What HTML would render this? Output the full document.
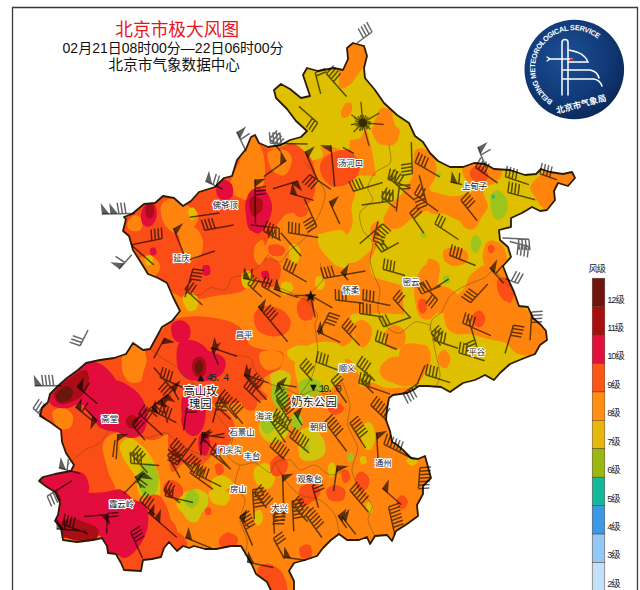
<!DOCTYPE html>
<html lang="zh"><head><meta charset="utf-8"><title>北京市极大风图</title>
<style>
html,body{margin:0;padding:0;background:#fff;}
body{width:640px;height:590px;overflow:hidden;position:relative;font-family:"Liberation Sans","Noto Sans CJK SC",sans-serif;}
svg{position:absolute;left:0;top:0;display:block;}
.t{font-family:"Liberation Sans","Noto Sans CJK SC",sans-serif;}
.lab{font-family:"Liberation Sans","Noto Sans CJK SC",sans-serif;font-size:8.4px;fill:#1a1a2a;paint-order:stroke;stroke:#fff;stroke-width:2.2px;stroke-linejoin:round;}
.lab2{font-family:"Liberation Sans","Noto Sans CJK SC",sans-serif;font-size:11.4px;fill:#111;paint-order:stroke;stroke:#fff;stroke-width:2.4px;stroke-linejoin:round;}
.leg{font-family:"Liberation Sans","Noto Sans CJK SC",sans-serif;font-size:9.3px;fill:#222;letter-spacing:-1.1px}
</style></head><body>
<svg width="640" height="590" viewBox="0 0 640 590">
<defs><clipPath id="bj"><path d="M124.0 217.0L132.0 214.0L144.0 204.0L155.0 203.0L163.0 196.0L174.0 198.0L183.0 206.0L191.0 201.0L199.0 192.0L215.0 187.0L224.0 178.0L232.0 176.0L237.0 160.0L246.0 149.0L251.0 137.0L255.0 135.0L259.0 143.0L268.0 147.0L281.0 145.0L290.0 140.0L301.0 137.0L307.0 131.0L296.0 121.0L287.0 109.0L276.0 98.0L274.0 90.0L281.0 84.0L290.0 89.0L301.0 98.0L310.0 96.0L307.0 87.0L303.0 75.0L307.0 68.0L318.0 71.0L334.0 68.0L343.0 70.0L348.0 59.0L347.0 48.0L353.0 43.0L364.0 46.0L367.0 56.0L364.0 68.0L365.0 78.0L375.0 90.0L384.0 103.0L397.0 115.0L409.0 123.0L415.0 136.0L423.0 142.0L430.0 153.0L438.0 161.0L450.0 167.0L463.0 167.0L474.0 163.0L485.0 164.0L494.0 169.0L510.0 170.0L525.0 175.0L536.0 174.0L541.0 169.0L550.0 172.0L563.0 174.0L572.0 172.0L575.0 178.0L568.0 186.0L558.0 183.0L554.0 191.0L555.0 200.0L547.0 210.0L540.0 211.0L532.0 207.0L522.0 213.0L511.0 218.0L511.0 227.0L499.0 230.0L500.0 240.0L508.0 247.0L511.0 257.0L503.0 266.0L508.0 279.0L514.0 292.0L519.0 306.0L528.0 307.0L533.0 318.0L541.0 325.0L546.0 331.0L547.0 340.0L540.0 345.0L535.0 354.0L522.0 359.0L510.0 364.0L500.0 373.0L494.0 380.0L485.0 375.0L475.0 380.0L463.0 383.0L450.0 392.0L441.0 387.0L428.0 386.0L419.0 386.0L413.0 390.0L407.0 393.0L393.0 395.0L389.0 398.0L387.0 409.0L386.0 420.0L390.0 431.0L392.0 442.0L396.0 444.0L403.0 450.0L411.0 458.0L418.0 459.0L425.0 456.0L428.0 467.0L431.0 478.0L423.0 486.0L423.0 494.0L417.0 505.0L418.0 516.0L407.0 524.0L396.0 531.0L392.0 541.0L387.0 535.0L375.0 536.0L370.0 544.0L367.0 537.0L359.0 540.0L347.0 540.0L339.0 534.0L331.0 540.0L323.0 548.0L317.0 556.0L305.0 560.0L294.0 563.0L289.0 571.0L294.0 581.0L294.0 595.0L273.0 595.0L267.0 582.0L256.0 574.0L252.0 565.0L247.0 556.0L241.0 546.0L231.0 546.0L216.0 549.0L205.0 549.0L194.0 546.0L189.0 548.0L183.0 546.0L177.0 551.0L169.0 542.0L164.0 548.0L161.0 557.0L152.0 559.0L143.0 560.0L141.0 571.0L124.0 570.0L121.0 563.0L116.0 554.0L108.0 553.0L107.0 546.0L102.0 538.0L93.0 540.0L77.0 542.0L63.0 540.0L61.0 528.0L55.0 521.0L58.0 515.0L60.0 503.0L55.0 492.0L47.0 487.0L39.0 481.0L43.0 477.0L55.0 474.0L71.0 471.0L74.0 465.0L66.0 453.0L62.0 442.0L61.0 430.0L50.0 422.0L40.0 416.0L42.0 408.0L48.0 402.0L50.0 394.0L58.0 386.0L67.0 378.0L78.0 370.0L86.0 363.0L100.0 360.0L114.0 358.0L126.0 354.0L133.0 343.0L143.0 350.0L150.0 349.0L156.0 338.0L162.0 327.0L172.0 321.0L180.0 311.0L173.0 297.0L167.0 283.0L158.0 278.0L148.0 274.0L140.0 261.0L133.0 250.0L129.0 236.0L123.0 231.0L126.0 219.0Z"/></clipPath>
<radialGradient id="lg" cx="0.42" cy="0.38" r="0.75"><stop offset="0" stop-color="#1c4f94"/><stop offset="0.55" stop-color="#113a78"/><stop offset="1" stop-color="#08204a"/></radialGradient>
<filter id="bl" x="-5%" y="-5%" width="110%" height="110%"><feGaussianBlur stdDeviation="0.7"/></filter>
<path id="arc" d="M 552.9 100.8 A 38.3 38.3 0 1 1 599.6 40.5"/>
</defs>
<rect width="640" height="590" fill="#fff"/>
<path d="M12.5 590V7.5H637.5V590" fill="none" stroke="#3a3a3a" stroke-width="1.3"/>
<g clip-path="url(#bj)"><g filter="url(#bl)">
<rect x="30" y="35" width="560" height="560" fill="#ff8410"/>
<path d="M267.6 85.1C270.9 77.2 266.3 72.6 272.6 67.6C278.9 62.6 294.7 55.5 305.2 55.0C315.7 54.6 330.0 59.7 335.8 65.1C341.5 70.4 337.4 83.8 339.8 87.1C342.1 90.5 346.9 87.0 349.8 85.1C352.7 83.2 354.4 78.7 357.3 75.6C360.2 72.5 363.1 65.6 367.3 66.3C371.6 67.1 378.2 72.8 382.9 80.1C387.6 87.4 393.3 99.3 395.4 110.2C397.5 121.0 397.9 140.3 395.4 145.3C392.9 150.3 384.6 144.0 380.4 140.3C376.2 136.5 373.7 123.1 370.4 122.7C367.0 122.3 363.7 134.8 360.3 137.7C357.0 140.7 352.4 138.2 350.3 140.3C348.2 142.3 351.1 149.2 347.8 150.3C344.5 151.3 335.3 146.9 330.3 146.5C325.2 146.1 321.9 147.8 317.7 147.8C313.5 147.8 309.4 146.7 305.2 146.5C301.0 146.3 298.9 147.1 292.7 146.5C286.4 145.9 274.3 148.0 267.6 142.8C260.9 137.5 252.6 124.8 252.6 115.2C252.6 105.6 264.3 93.0 267.6 85.1Z" fill="#dfc004"/>
<path d="M352.7 177.5C356.9 175.0 374.8 174.6 380.3 177.5C385.7 180.4 385.3 188.4 385.3 195.0C385.3 201.7 382.8 212.2 380.3 217.6C377.8 223.0 371.5 223.0 370.3 227.6C369.0 232.2 373.6 240.6 372.8 245.2C371.9 249.8 368.6 252.3 365.2 255.2C361.9 258.1 358.1 261.9 352.7 262.7C347.3 263.5 338.1 262.7 332.7 260.2C327.2 257.7 322.4 252.1 320.1 247.7C317.8 243.3 316.4 235.3 318.9 233.9C321.4 232.4 330.4 238.9 335.2 238.9C340.0 238.9 344.8 236.6 347.7 233.9C350.6 231.2 352.1 227.0 352.7 222.6C353.3 218.2 351.0 212.6 351.5 207.6C351.9 202.6 355.0 197.5 355.2 192.5C355.4 187.5 348.5 180.0 352.7 177.5Z" fill="#dfc004"/>
<path d="M351.4 315.0C354.9 312.7 366.2 313.8 375.2 313.8C384.2 313.8 399.4 313.6 405.3 315.0C411.1 316.5 406.1 320.9 410.3 322.6C414.5 324.2 425.3 322.6 430.3 325.1C435.3 327.6 434.5 335.5 440.4 337.6C446.2 339.7 461.2 329.7 465.4 337.6C469.6 345.5 468.8 376.4 465.4 385.2C462.1 394.0 451.2 390.2 445.4 390.2C439.5 390.2 435.3 385.8 430.3 385.2C425.3 384.6 420.3 386.0 415.3 386.5C410.3 386.9 405.3 387.5 400.3 387.7C395.2 387.9 389.8 388.6 385.2 387.7C380.6 386.9 376.9 382.9 372.7 382.7C368.5 382.5 362.4 387.7 360.2 386.5C357.9 385.2 360.6 379.6 358.9 375.2C357.2 370.8 353.7 362.9 350.1 360.2C346.6 357.4 340.1 360.6 337.6 358.9C335.1 357.2 333.0 352.8 335.1 350.1C337.2 347.4 347.0 346.4 350.1 342.6C353.3 338.8 353.7 332.2 353.9 327.6C354.1 323.0 347.8 317.3 351.4 315.0Z" fill="#dfc004"/>
<path d="M121.5 442.7C123.1 440.7 127.1 437.3 130.2 437.7C133.4 438.1 137.3 441.9 140.3 445.3C143.2 448.6 145.3 453.6 147.8 457.8C150.3 462.0 153.4 464.5 155.3 470.3C157.2 476.2 161.6 488.7 159.1 492.9C156.6 497.0 144.2 498.3 140.3 495.4C136.3 492.5 137.3 481.2 135.3 475.3C133.2 469.5 130.2 464.5 127.7 460.3C125.2 456.1 121.3 453.2 120.2 450.3C119.2 447.3 119.8 444.8 121.5 442.7Z" fill="#dfc004"/>
<path d="M122.7 444.5C124.8 442.0 131.1 440.7 135.3 442.0C139.4 443.3 144.0 447.0 147.8 452.0C151.5 457.0 155.7 465.4 157.8 472.1C159.9 478.8 160.7 486.7 160.3 492.1C159.9 497.6 157.8 503.0 155.3 504.7C152.8 506.3 147.8 505.1 145.3 502.2C142.8 499.2 142.4 492.1 140.3 487.1C138.2 482.1 135.7 477.1 132.7 472.1C129.8 467.1 124.4 461.6 122.7 457.0C121.0 452.4 120.6 447.0 122.7 444.5Z" fill="#dfc004"/>
<path d="M176.6 504.7C176.6 500.9 182.0 493.8 185.4 492.1C188.7 490.5 194.8 490.5 196.7 494.6C198.5 498.8 198.5 513.8 196.7 517.2C194.8 520.5 188.7 516.8 185.4 514.7C182.0 512.6 176.6 508.4 176.6 504.7Z" fill="#dfc004"/>
<path d="M254.0 470.2C255.2 466.5 261.7 462.3 265.2 462.7C268.8 463.1 274.4 468.6 275.3 472.7C276.1 476.9 273.2 485.7 270.3 487.8C267.3 489.9 260.4 488.2 257.7 485.3C255.0 482.3 252.7 474.0 254.0 470.2Z" fill="#dfc004"/>
<path d="M211.4 480.3C212.8 478.0 219.1 474.8 222.6 475.2C226.2 475.7 232.2 480.3 232.7 482.8C233.1 485.3 228.3 489.2 225.1 490.3C222.0 491.3 216.2 490.7 213.9 489.0C211.6 487.4 209.9 482.5 211.4 480.3Z" fill="#dfc004"/>
<path d="M306.6 440.2C307.0 436.4 313.1 429.7 315.4 430.1C317.7 430.5 320.8 438.9 320.4 442.7C320.0 446.4 315.2 453.1 312.9 452.7C310.6 452.3 306.2 443.9 306.6 440.2Z" fill="#dfc004"/>
<path d="M361.4 427.6C362.7 423.6 367.9 421.3 370.2 422.6C372.5 423.8 375.0 430.7 375.2 435.1C375.4 439.5 373.5 447.0 371.4 448.9C369.3 450.8 364.3 449.9 362.7 446.4C361.0 442.8 360.2 431.5 361.4 427.6Z" fill="#dfc004"/>
<path d="M406.5 460.2C406.7 458.6 410.9 456.2 412.8 456.4C414.7 456.6 418.0 459.9 417.8 461.4C417.6 462.9 413.4 465.9 411.5 465.7C409.6 465.5 406.3 461.7 406.5 460.2Z" fill="#dfc004"/>
<path d="M328.1 466.4C328.7 463.9 332.6 461.6 333.8 462.7C335.1 463.7 336.2 470.2 335.6 472.7C335.0 475.2 331.3 478.7 330.1 477.7C328.8 476.6 327.4 468.9 328.1 466.4Z" fill="#dfc004"/>
<path d="M360.2 457.6C360.8 456.4 364.1 455.6 365.2 456.4C366.2 457.2 367.0 461.4 366.4 462.7C365.8 463.9 362.4 464.7 361.4 463.9C360.4 463.1 359.5 458.9 360.2 457.6Z" fill="#dfc004"/>
<path d="M366.4 504.0C367.0 502.3 370.4 501.5 371.4 502.8C372.5 504.0 373.3 509.9 372.7 511.5C372.1 513.2 368.7 514.0 367.7 512.8C366.6 511.5 365.8 505.7 366.4 504.0Z" fill="#dfc004"/>
<path d="M208.8 492.5C210.0 490.2 216.5 488.3 220.0 488.8C223.5 489.2 229.2 492.3 230.0 495.0C230.8 497.7 227.9 503.8 225.0 505.0C222.1 506.2 215.2 504.6 212.5 502.5C209.8 500.4 207.5 494.8 208.8 492.5Z" fill="#dfc004"/>
<path d="M147.5 470.0C149.0 464.6 154.6 470.8 156.2 475.0C157.9 479.2 158.1 489.6 157.5 495.0C156.9 500.4 154.2 505.4 152.5 507.5C150.8 509.6 148.3 513.8 147.5 507.5C146.7 501.2 146.0 475.4 147.5 470.0Z" fill="#dfc004"/>
<path d="M256.2 472.5C257.7 470.2 264.4 469.2 267.5 470.0C270.6 470.8 275.0 474.6 275.0 477.5C275.0 480.4 270.2 486.5 267.5 487.5C264.8 488.5 260.6 486.2 258.8 483.8C256.9 481.2 254.8 474.8 256.2 472.5Z" fill="#dfc004"/>
<path d="M253.0 515.0C253.4 512.4 258.3 509.4 260.0 510.0C261.7 510.6 263.4 516.2 263.0 518.8C262.6 521.3 259.2 526.1 257.5 525.5C255.8 524.9 252.6 517.6 253.0 515.0Z" fill="#dfc004"/>
<path d="M366.0 118.0C367.7 109.3 377.8 86.1 385.0 85.0C392.2 83.9 411.3 101.3 420.0 110.0C428.7 118.7 436.7 143.3 450.0 150.0C463.3 156.7 502.0 158.0 520.0 160.0C538.0 162.0 576.3 157.7 585.0 165.0C593.7 172.3 593.0 205.7 585.0 215.0C577.0 224.3 533.7 225.0 525.0 235.0C516.3 245.0 516.0 276.7 520.0 290.0C524.0 303.3 553.7 324.3 555.0 335.0C556.3 345.7 538.0 362.7 530.0 370.0C522.0 377.3 505.7 386.3 495.0 390.0C484.3 393.7 460.7 397.3 450.0 398.0C439.3 398.7 420.3 401.4 415.0 395.0C409.7 388.6 410.3 358.4 410.0 350.0C409.7 341.6 413.7 336.3 413.0 332.0C412.3 327.7 406.3 322.3 405.0 318.0C403.7 313.7 403.5 304.3 403.0 300.0C402.5 295.7 403.3 288.5 401.0 286.0C398.7 283.5 389.7 282.3 386.0 281.0C382.3 279.7 375.1 278.5 373.0 276.0C370.9 273.5 369.6 265.7 370.0 262.0C370.4 258.3 374.7 252.9 376.0 248.0C377.3 243.1 380.3 230.7 380.0 225.0C379.7 219.3 374.5 211.0 374.0 205.0C373.5 199.0 376.3 187.3 376.0 180.0C375.7 172.7 373.3 158.3 372.0 150.0C370.7 141.7 364.3 126.7 366.0 118.0Z" fill="#dfc004"/>
<path d="M320.9 235.1C322.3 232.9 326.2 231.7 330.3 231.4C334.3 231.0 342.5 227.6 345.3 233.2C348.1 238.9 348.7 259.9 347.2 265.2C345.6 270.5 339.3 266.8 335.9 265.2C332.5 263.6 328.9 259.2 326.5 255.8C324.2 252.3 322.7 248.0 321.8 244.5C320.9 241.1 319.5 237.3 320.9 235.1Z" fill="#dfc004"/>
<path d="M289.3 246.4C290.2 243.6 294.6 243.6 296.4 244.5C298.2 245.5 300.0 249.1 300.2 252.0C300.3 255.0 298.9 260.8 297.4 262.4C295.8 263.9 292.1 264.1 290.8 261.4C289.4 258.8 288.3 249.2 289.3 246.4Z" fill="#dfc004"/>
<path d="M315.6 278.3C316.5 276.5 320.2 275.7 321.8 276.5C323.4 277.2 325.0 280.9 325.0 283.0C325.0 285.2 323.3 288.8 321.8 289.6C320.3 290.4 317.2 289.6 316.2 287.7C315.1 285.9 314.7 280.2 315.6 278.3Z" fill="#dfc004"/>
<path d="M281.4 284.0C282.5 282.4 286.6 281.2 288.0 282.1C289.4 283.0 290.3 287.4 289.8 289.6C289.4 291.8 286.6 294.9 285.2 295.3C283.7 295.6 282.0 293.4 281.4 291.5C280.8 289.6 280.3 285.6 281.4 284.0Z" fill="#dfc004"/>
<path d="M300.0 350.0C304.2 346.7 313.3 342.8 320.0 342.0C326.7 341.2 335.8 342.0 340.0 345.0C344.2 348.0 345.0 354.2 345.0 360.0C345.0 365.8 343.3 374.7 340.0 380.0C336.7 385.3 330.8 389.5 325.0 392.0C319.2 394.5 309.7 397.0 305.0 395.0C300.3 393.0 298.7 385.5 297.0 380.0C295.3 374.5 294.5 367.0 295.0 362.0C295.5 357.0 295.8 353.3 300.0 350.0Z" fill="#dfc004"/>
<path d="M281.0 147.0C283.2 144.2 293.8 141.2 300.0 141.0C306.2 140.8 314.3 143.3 318.0 146.0C321.7 148.7 324.2 154.5 322.0 157.0C319.8 159.5 310.8 160.8 305.0 161.0C299.2 161.2 291.0 160.3 287.0 158.0C283.0 155.7 278.8 149.8 281.0 147.0Z" fill="#dfc004"/>
<path d="M341.0 111.9C341.4 109.6 343.4 105.4 345.0 103.9C346.7 102.4 349.9 102.1 351.1 102.9C352.2 103.7 352.4 106.8 352.1 108.9C351.7 111.1 350.6 114.4 349.0 115.9C347.5 117.4 344.4 118.6 343.0 117.9C341.7 117.3 340.7 114.3 341.0 111.9Z" fill="#ff8410"/>
<path d="M374.1 122.7C374.9 119.4 377.5 114.8 380.4 112.7C383.3 110.6 389.8 105.6 391.7 110.2C393.5 114.8 393.5 135.4 391.7 140.3C389.8 145.1 383.1 140.3 380.4 139.0C377.7 137.7 376.4 135.4 375.4 132.7C374.3 130.0 373.3 126.0 374.1 122.7Z" fill="#ff8410"/>
<path d="M372.7 127.5C376.0 125.0 393.6 125.4 397.8 127.5C401.9 129.6 399.0 137.1 397.8 140.0C396.5 142.9 393.6 144.6 390.3 145.0C386.9 145.5 380.6 145.5 377.7 142.5C374.8 139.6 369.4 130.0 372.7 127.5Z" fill="#ff8410"/>
<path d="M415.3 150.1C418.2 146.3 426.8 149.6 430.4 152.6C433.9 155.5 436.0 163.0 436.6 167.6C437.2 172.2 435.8 176.4 434.1 180.1C432.4 183.9 428.9 187.2 426.6 190.2C424.3 193.1 423.5 193.5 420.3 197.7C417.2 201.8 412.0 210.0 407.8 215.2C403.6 220.4 399.0 228.2 395.3 229.0C391.5 229.8 386.1 224.2 385.2 220.2C384.4 216.3 387.3 209.8 390.3 205.2C393.2 200.6 399.0 197.7 402.8 192.7C406.5 187.6 410.7 182.2 412.8 175.1C414.9 168.0 412.4 153.8 415.3 150.1Z" fill="#ff8410"/>
<path d="M377.5 115.0C378.1 110.9 380.4 107.9 382.5 107.5C384.6 107.1 388.0 109.6 390.1 112.5C392.1 115.5 393.8 120.9 395.1 125.1C396.3 129.2 398.0 134.3 397.6 137.6C397.2 140.9 394.9 144.1 392.6 145.1C390.3 146.2 386.1 145.9 383.8 143.9C381.5 141.8 379.8 137.4 378.8 132.6C377.7 127.8 376.9 119.2 377.5 115.0Z" fill="#ff8410"/>
<path d="M416.4 151.4C418.2 148.2 421.8 147.4 423.9 148.9C426.0 150.3 428.5 155.8 428.9 160.2C429.3 164.5 425.8 169.8 426.4 175.2C427.0 180.6 428.7 189.2 432.7 192.7C436.6 196.3 443.9 196.5 450.2 196.5C456.5 196.5 465.0 195.0 470.3 192.7C475.5 190.4 479.2 182.3 481.5 182.7C483.8 183.1 483.0 191.1 484.0 195.2C485.1 199.4 488.8 203.6 487.8 207.8C486.8 211.9 480.9 217.0 477.8 220.3C474.6 223.6 471.5 227.4 469.0 227.8C466.5 228.2 465.4 224.5 462.7 222.8C460.0 221.1 456.5 219.5 452.7 217.8C448.9 216.1 444.8 213.8 440.2 212.8C435.6 211.7 429.7 210.7 425.1 211.5C420.5 212.4 416.8 215.1 412.6 217.8C408.4 220.5 404.3 226.1 400.1 227.8C395.9 229.5 390.3 229.5 387.5 227.8C384.8 226.1 382.9 221.1 383.8 217.8C384.6 214.5 388.6 209.9 392.6 207.8C396.5 205.7 403.4 206.9 407.6 205.3C411.8 203.6 416.6 201.5 417.6 197.7C418.7 194.0 414.7 187.7 413.9 182.7C413.0 177.7 412.2 172.9 412.6 167.7C413.0 162.4 414.5 154.5 416.4 151.4Z" fill="#ff8410"/>
<path d="M462.7 167.7C464.2 165.6 468.6 164.3 472.8 163.9C476.9 163.5 483.2 164.3 487.8 165.2C492.4 166.0 498.0 167.3 500.3 168.9C502.6 170.6 502.4 172.9 501.6 175.2C500.7 177.5 498.4 180.8 495.3 182.7C492.2 184.6 487.0 186.3 482.8 186.5C478.6 186.7 473.4 185.6 470.3 184.0C467.1 182.3 465.2 179.2 464.0 176.4C462.7 173.7 461.3 169.8 462.7 167.7Z" fill="#ff8410"/>
<path d="M530.3 187.6C530.7 184.2 534.4 180.5 537.8 177.5C541.1 174.6 543.6 171.3 550.3 170.0C557.0 168.8 573.3 166.7 577.9 170.0C582.5 173.4 580.8 186.3 577.9 190.1C574.9 193.8 564.1 189.2 560.3 192.6C556.6 195.9 558.2 207.6 555.3 210.1C552.4 212.6 546.1 209.7 542.8 207.6C539.4 205.5 537.4 200.9 535.3 197.6C533.2 194.3 529.8 190.9 530.3 187.6Z" fill="#ff8410"/>
<path d="M430.0 192.6C432.5 189.7 440.4 194.3 445.0 195.1C449.6 195.9 453.8 198.0 457.6 197.6C461.3 197.2 464.5 192.8 467.6 192.6C470.7 192.4 473.7 193.8 476.4 196.3C479.1 198.8 483.3 203.7 483.9 207.6C484.5 211.6 481.8 216.6 480.1 220.2C478.5 223.7 476.4 227.7 473.9 228.9C471.4 230.2 467.8 229.3 465.1 227.7C462.4 226.0 460.9 221.2 457.6 218.9C454.2 216.6 449.6 214.9 445.0 213.9C440.4 212.8 432.5 216.2 430.0 212.6C427.5 209.1 427.5 195.5 430.0 192.6Z" fill="#ff8410"/>
<path d="M485.1 245.2C486.4 242.3 488.7 240.0 491.4 240.2C494.1 240.4 499.1 243.1 501.4 246.5C503.7 249.8 505.4 256.3 505.2 260.3C505.0 264.2 502.7 269.0 500.2 270.3C497.7 271.5 492.9 269.9 490.2 267.8C487.4 265.7 484.7 261.5 483.9 257.7C483.0 254.0 483.9 248.1 485.1 245.2Z" fill="#ff8410"/>
<path d="M443.8 250.2C445.5 247.9 451.3 247.5 455.1 247.7C458.8 247.9 464.3 249.4 466.3 251.5C468.4 253.6 469.1 258.0 467.6 260.3C466.1 262.5 461.3 265.1 457.6 265.3C453.8 265.5 447.3 264.0 445.0 261.5C442.7 259.0 442.1 252.5 443.8 250.2Z" fill="#ff8410"/>
<path d="M427.5 260.3C429.2 257.1 435.4 259.8 437.5 261.5C439.6 263.2 440.2 267.1 440.0 270.3C439.8 273.4 438.4 278.6 436.3 280.3C434.2 282.0 429.0 283.6 427.5 280.3C426.0 277.0 425.8 263.4 427.5 260.3Z" fill="#ff8410"/>
<path d="M470.1 275.3C472.6 271.9 476.4 270.7 480.1 270.3C483.9 269.9 488.9 272.8 492.7 272.8C496.4 272.8 499.3 268.2 502.7 270.3C506.0 272.4 510.2 278.6 512.7 285.3C515.2 292.0 526.1 306.2 517.7 310.4C509.4 314.6 471.4 313.7 462.6 310.4C453.8 307.0 463.8 296.2 465.1 290.3C466.3 284.5 467.6 278.6 470.1 275.3Z" fill="#ff8410"/>
<path d="M427.5 285.3C430.4 281.3 440.0 284.9 445.0 286.6C450.1 288.2 455.5 291.4 457.6 295.3C459.7 299.3 462.6 307.9 457.6 310.4C452.6 312.9 432.5 314.6 427.5 310.4C422.5 306.2 424.6 289.3 427.5 285.3Z" fill="#ff8410"/>
<path d="M353.9 325.1C355.1 321.7 359.7 319.6 362.7 320.1C365.6 320.5 370.2 324.2 371.4 327.6C372.7 330.9 371.6 336.8 370.2 340.1C368.7 343.4 365.2 347.6 362.7 347.6C360.2 347.6 356.6 343.9 355.1 340.1C353.7 336.3 352.6 328.4 353.9 325.1Z" fill="#ff8410"/>
<path d="M385.2 332.6C386.5 329.2 390.9 325.5 394.0 325.1C397.1 324.6 402.1 327.2 404.0 330.1C405.9 333.0 406.5 339.3 405.3 342.6C404.0 345.9 399.6 349.7 396.5 350.1C393.4 350.5 388.3 348.0 386.5 345.1C384.6 342.2 384.0 335.9 385.2 332.6Z" fill="#ff8410"/>
<path d="M380.2 367.7C381.5 364.3 386.5 359.5 390.2 357.6C394.0 355.8 399.4 358.1 402.8 356.4C406.1 354.7 406.5 349.5 410.3 347.6C414.0 345.7 422.0 343.4 425.3 345.1C428.7 346.8 430.3 353.0 430.3 357.6C430.3 362.2 427.4 368.5 425.3 372.7C423.2 376.9 421.1 380.4 417.8 382.7C414.5 385.0 409.4 386.5 405.3 386.5C401.1 386.5 396.5 384.2 392.7 382.7C389.0 381.2 384.8 380.2 382.7 377.7C380.6 375.2 378.9 371.0 380.2 367.7Z" fill="#ff8410"/>
<path d="M439.1 353.9C440.1 351.8 443.8 349.1 445.4 350.1C446.9 351.2 448.6 357.2 448.4 360.2C448.2 363.1 445.7 367.3 444.1 367.7C442.6 368.1 439.9 365.0 439.1 362.7C438.3 360.4 438.1 356.0 439.1 353.9Z" fill="#ff8410"/>
<path d="M443.9 312.1C444.4 307.4 447.0 303.2 450.2 299.6C453.3 295.9 458.5 294.9 462.7 290.2C466.9 285.5 471.3 275.5 475.2 271.3C479.2 267.2 483.1 264.6 486.2 265.1C489.3 265.6 493.3 270.3 494.0 274.5C494.8 278.7 490.4 285.5 490.9 290.2C491.4 294.9 494.3 301.7 497.2 302.7C500.1 303.7 505.0 296.4 508.2 296.4C511.3 296.4 513.1 300.6 516.0 302.7C518.9 304.8 521.7 306.4 525.4 309.0C529.0 311.6 534.3 314.2 537.9 318.4C541.6 322.5 546.3 329.3 547.3 334.0C548.4 338.7 546.8 342.9 544.2 346.6C541.6 350.2 536.4 354.9 531.7 356.0C527.0 357.0 520.2 354.9 516.0 352.9C511.8 350.8 510.2 345.5 506.6 343.4C502.9 341.4 498.2 341.4 494.0 340.3C489.9 339.3 485.7 338.2 481.5 337.2C477.3 336.1 473.1 334.6 469.0 334.0C464.8 333.5 460.1 335.1 456.4 334.0C452.8 333.0 449.1 331.4 447.0 327.8C444.9 324.1 443.4 316.8 443.9 312.1Z" fill="#ff8410"/>
<path d="M483.1 252.5C484.1 248.6 487.5 242.6 490.9 241.6C494.3 240.5 500.6 242.4 503.4 246.3C506.3 250.2 506.6 259.3 508.2 265.1C509.7 270.8 511.5 274.5 512.9 280.8C514.2 287.0 517.6 300.1 516.0 302.7C514.4 305.3 507.1 301.1 503.4 296.4C499.8 291.7 497.2 279.7 494.0 274.5C490.9 269.3 486.5 268.7 484.6 265.1C482.8 261.4 482.0 256.5 483.1 252.5Z" fill="#ff8410"/>
<path d="M443.9 252.5C444.7 249.5 451.1 246.9 454.9 246.9C458.6 246.9 464.9 249.8 466.5 252.5C468.0 255.3 467.0 261.4 464.3 263.5C461.5 265.6 453.6 266.9 450.2 265.1C446.8 263.2 443.1 255.6 443.9 252.5Z" fill="#ff8410"/>
<path d="M414.1 287.0C414.6 279.2 419.1 272.1 421.9 268.2C424.8 264.3 428.5 262.5 431.3 263.5C434.2 264.6 438.4 270.0 439.2 274.5C440.0 278.9 435.8 285.5 436.1 290.2C436.3 294.9 441.5 298.0 440.8 302.7C440.0 307.4 435.0 316.3 431.3 318.4C427.7 320.5 421.7 320.5 418.8 315.2C415.9 310.0 413.6 294.9 414.1 287.0Z" fill="#ff8410"/>
<path d="M400.0 349.7C402.6 342.9 410.7 343.2 415.7 343.4C420.6 343.7 427.7 347.1 429.8 351.3C431.9 355.5 430.6 363.6 428.2 368.5C425.9 373.5 420.4 378.5 415.7 381.1C411.0 383.7 402.6 389.4 400.0 384.2C397.4 379.0 397.4 356.5 400.0 349.7Z" fill="#ff8410"/>
<path d="M438.2 356.0C438.9 353.4 441.9 349.5 443.9 349.7C445.9 350.0 449.6 354.5 450.2 357.6C450.7 360.6 448.7 366.6 447.0 367.9C445.4 369.2 441.6 367.4 440.1 365.4C438.7 363.4 437.6 358.6 438.2 356.0Z" fill="#ff8410"/>
<path d="M241.5 275.1C242.7 273.2 247.1 271.7 249.0 272.6C250.9 273.4 253.0 277.6 252.8 280.1C252.5 282.6 249.6 287.0 247.7 287.6C245.9 288.2 242.5 285.9 241.5 283.8C240.4 281.7 240.2 276.9 241.5 275.1Z" fill="#cfc50a"/>
<path d="M270.3 375.3C271.1 372.0 277.0 370.3 280.3 370.3C283.7 370.3 289.1 372.4 290.4 375.3C291.6 378.2 290.4 385.3 287.8 387.8C285.3 390.4 278.2 392.4 275.3 390.4C272.4 388.3 269.5 378.7 270.3 375.3Z" fill="#cfc50a"/>
<path d="M259.0 425.1C260.2 420.9 266.3 415.1 270.3 412.6C274.2 410.1 279.4 408.4 282.8 410.1C286.1 411.7 289.9 418.0 290.3 422.6C290.7 427.2 288.2 434.3 285.3 437.6C282.4 441.0 276.5 442.7 272.8 442.7C269.0 442.7 265.0 440.6 262.7 437.6C260.4 434.7 257.7 429.3 259.0 425.1Z" fill="#cfc50a"/>
<path d="M185.0 497.8C185.9 493.8 191.3 489.4 195.1 489.0C198.8 488.6 205.9 491.7 207.6 495.3C209.3 498.8 208.0 507.4 205.1 510.3C202.2 513.2 193.4 514.9 190.1 512.8C186.7 510.7 184.2 501.8 185.0 497.8Z" fill="#cfc50a"/>
<path d="M300.0 432.6C301.7 427.6 306.3 426.7 310.0 427.6C313.8 428.4 320.1 433.4 322.6 437.6C325.1 441.8 326.3 448.9 325.1 452.6C323.8 456.4 319.2 459.3 315.0 460.2C310.9 461.0 302.5 462.2 300.0 457.6C297.5 453.0 298.3 437.6 300.0 432.6Z" fill="#cfc50a"/>
<path d="M181.2 505.0C181.7 500.4 186.9 494.2 190.0 492.5C193.1 490.8 197.9 492.5 200.0 495.0C202.1 497.5 202.9 503.1 202.5 507.5C202.1 511.9 200.0 519.2 197.5 521.2C195.0 523.3 190.2 522.7 187.5 520.0C184.8 517.3 180.8 509.6 181.2 505.0Z" fill="#cfc50a"/>
<path d="M491.6 194.0C492.8 192.3 495.5 189.8 497.8 190.2C500.1 190.6 503.7 193.6 505.3 196.5C507.0 199.4 508.3 204.2 507.8 207.8C507.4 211.3 504.9 215.9 502.8 217.8C500.7 219.7 497.2 220.3 495.3 219.0C493.4 217.8 492.4 213.4 491.6 210.3C490.7 207.1 490.3 203.0 490.3 200.3C490.3 197.5 490.3 195.7 491.6 194.0Z" fill="#9cc41c"/>
<path d="M472.3 237.8C472.9 236.0 475.2 234.9 476.5 235.3C477.9 235.8 480.0 238.3 480.3 240.4C480.6 242.4 479.5 246.8 478.3 247.9C477.0 248.9 473.8 248.3 472.8 246.6C471.8 244.9 471.6 239.7 472.3 237.8Z" fill="#9cc41c"/>
<path d="M420.1 234.1C420.3 233.1 422.8 232.0 423.9 232.3C424.9 232.6 426.5 234.8 426.4 235.8C426.3 236.8 424.2 238.6 423.1 238.3C422.1 238.1 420.0 235.1 420.1 234.1Z" fill="#9cc41c"/>
<path d="M437.2 174.2C437.5 173.5 439.5 172.8 440.2 173.2C440.8 173.5 441.5 175.5 441.2 176.2C440.8 176.9 438.8 177.5 438.2 177.2C437.5 176.9 436.8 174.9 437.2 174.2Z" fill="#9cc41c"/>
<path d="M472.1 238.9C472.5 237.1 475.0 235.8 476.4 236.4C477.7 237.1 479.9 240.2 480.1 242.7C480.3 245.2 478.7 250.6 477.6 251.5C476.6 252.3 474.8 249.8 473.9 247.7C472.9 245.6 471.7 240.8 472.1 238.9Z" fill="#9cc41c"/>
<path d="M443.8 276.5C444.1 275.6 446.7 274.9 447.5 275.3C448.4 275.7 449.4 277.9 449.0 278.8C448.7 279.7 446.4 281.2 445.5 280.8C444.7 280.4 443.5 277.5 443.8 276.5Z" fill="#9cc41c"/>
<path d="M291.6 417.6C292.5 415.3 295.9 412.0 297.8 412.6C299.7 413.2 302.8 418.4 302.8 421.4C302.8 424.3 299.6 429.3 297.8 430.1C296.1 431.0 293.4 428.5 292.3 426.4C291.3 424.3 290.6 419.9 291.6 417.6Z" fill="#9cc41c"/>
<path d="M306.6 382.5C307.4 380.0 315.2 378.7 317.9 380.0C320.6 381.3 323.7 387.5 322.9 390.0C322.0 392.5 315.6 396.3 312.9 395.0C310.1 393.8 305.8 385.0 306.6 382.5Z" fill="#9cc41c"/>
<path d="M347.1 456.4C347.4 454.8 350.3 452.3 351.4 452.6C352.5 452.9 354.2 456.6 353.9 458.1C353.6 459.7 350.8 462.2 349.6 461.9C348.5 461.6 346.8 457.9 347.1 456.4Z" fill="#9cc41c"/>
<path d="M362.7 431.3C363.4 430.5 366.8 429.9 367.7 430.6C368.6 431.2 368.9 434.3 368.2 435.1C367.4 435.9 364.1 436.2 363.2 435.6C362.2 435.0 361.9 432.2 362.7 431.3Z" fill="#9cc41c"/>
<path d="M302.5 443.9C303.3 442.6 307.0 441.6 308.0 442.6C309.1 443.6 309.6 448.4 308.8 449.6C307.9 450.9 304.1 451.1 303.0 450.1C302.0 449.2 301.7 445.1 302.5 443.9Z" fill="#9cc41c"/>
<path d="M471.5 240.0C473.0 238.7 479.5 238.7 480.9 240.0C482.3 241.3 480.9 245.6 479.9 247.8C479.0 250.0 476.6 253.2 475.2 253.2C473.8 253.2 472.1 250.0 471.5 247.8C470.8 245.6 469.9 241.3 471.5 240.0Z" fill="#9cc41c"/>
<path d="M443.3 277.6C443.8 276.3 447.4 275.4 448.6 276.1C449.7 276.7 450.7 280.1 450.2 281.4C449.6 282.7 446.6 284.5 445.5 283.9C444.3 283.3 442.7 278.9 443.3 277.6Z" fill="#9cc41c"/>
<path d="M272.0 388.0C273.3 384.7 279.3 383.0 282.0 384.0C284.7 385.0 287.7 390.0 288.0 394.0C288.3 398.0 286.3 406.3 284.0 408.0C281.7 409.7 276.0 407.3 274.0 404.0C272.0 400.7 270.7 391.3 272.0 388.0Z" fill="#9cc41c"/>
<path d="M300.0 382.0C302.0 379.3 309.0 377.0 312.0 378.0C315.0 379.0 318.3 384.7 318.0 388.0C317.7 391.3 313.0 397.0 310.0 398.0C307.0 399.0 301.7 396.7 300.0 394.0C298.3 391.3 298.0 384.7 300.0 382.0Z" fill="#9cc41c"/>
<path d="M262.0 420.0C263.5 418.0 267.7 415.0 270.0 416.0C272.3 417.0 276.3 423.0 276.0 426.0C275.7 429.0 270.5 433.7 268.0 434.0C265.5 434.3 262.0 430.3 261.0 428.0C260.0 425.7 260.5 422.0 262.0 420.0Z" fill="#9cc41c"/>
<path d="M140.0 470.0C141.8 466.0 147.0 461.3 150.0 462.0C153.0 462.7 157.0 469.0 158.0 474.0C159.0 479.0 158.0 488.0 156.0 492.0C154.0 496.0 148.8 499.0 146.0 498.0C143.2 497.0 140.0 490.7 139.0 486.0C138.0 481.3 138.2 474.0 140.0 470.0Z" fill="#9cc41c"/>
<path d="M186.0 494.0C187.5 491.8 191.8 489.0 194.0 490.0C196.2 491.0 199.3 497.0 199.0 500.0C198.7 503.0 194.3 507.5 192.0 508.0C189.7 508.5 186.0 505.3 185.0 503.0C184.0 500.7 184.5 496.2 186.0 494.0Z" fill="#9cc41c"/>
<path d="M491.8 195.7C492.0 195.1 493.3 194.5 493.8 194.7C494.3 195.0 495.0 196.6 494.8 197.2C494.6 197.9 493.3 199.0 492.8 198.7C492.3 198.5 491.6 196.4 491.8 195.7Z" fill="#10b898"/>
<path d="M320.1 165.1C320.9 161.3 323.0 157.6 327.6 155.1C332.2 152.6 342.4 148.8 347.6 150.1C352.9 151.3 357.3 158.4 358.9 162.6C360.6 166.8 359.5 171.6 357.7 175.1C355.8 178.7 351.8 182.0 347.6 183.9C343.5 185.8 336.8 187.4 332.6 186.4C328.4 185.3 324.7 181.2 322.6 177.6C320.5 174.1 319.2 168.8 320.1 165.1Z" fill="#fb4d16"/>
<path d="M471.5 168.9C473.2 167.1 477.6 165.0 480.3 165.7C483.0 166.3 486.8 170.3 487.8 172.7C488.8 175.1 488.2 178.5 486.5 180.2C484.9 181.9 480.5 183.3 477.8 182.7C475.1 182.1 471.3 178.7 470.3 176.4C469.2 174.1 469.8 170.7 471.5 168.9Z" fill="#fb4d16"/>
<path d="M488.1 246.5C488.7 245.3 491.1 244.3 492.2 244.7C493.2 245.1 494.7 247.6 494.7 249.0C494.7 250.4 493.2 252.8 492.2 253.2C491.2 253.7 489.3 252.6 488.6 251.5C488.0 250.4 487.6 247.6 488.1 246.5Z" fill="#fb4d16"/>
<path d="M497.7 280.3C498.9 278.2 502.9 276.5 505.2 277.8C507.5 279.0 510.4 284.3 511.5 287.8C512.5 291.4 512.7 297.0 511.5 299.1C510.2 301.2 506.2 301.8 503.9 300.4C501.6 298.9 498.7 293.7 497.7 290.3C496.6 287.0 496.4 282.4 497.7 280.3Z" fill="#fb4d16"/>
<path d="M120.0 225.0C122.0 218.1 142.0 202.4 150.0 198.0C158.0 193.6 172.7 193.6 180.0 192.0C187.3 190.4 199.0 188.4 205.0 186.0C211.0 183.6 220.6 178.0 225.0 174.0C229.4 170.0 234.7 161.3 238.0 156.0C241.3 150.7 246.8 135.3 250.0 134.0C253.2 132.7 258.7 144.0 262.0 146.0C265.3 148.0 271.0 149.4 275.0 149.0C279.0 148.6 288.3 142.9 292.0 143.0C295.7 143.1 300.3 147.7 303.0 150.0C305.7 152.3 310.3 156.0 312.0 160.0C313.7 164.0 316.0 174.7 316.0 180.0C316.0 185.3 314.8 195.7 312.0 200.0C309.2 204.3 298.6 210.0 295.0 212.0C291.4 214.0 288.1 212.3 285.0 215.0C281.9 217.7 274.8 227.3 272.0 232.0C269.2 236.7 265.3 245.2 264.0 250.0C262.7 254.8 263.2 264.0 262.0 268.0C260.8 272.0 257.9 276.8 255.0 280.0C252.1 283.2 245.3 289.9 240.0 292.0C234.7 294.1 221.7 294.9 215.0 296.0C208.3 297.1 195.7 300.5 190.0 300.0C184.3 299.5 177.3 295.1 172.0 292.0C166.7 288.9 154.9 282.6 150.0 277.0C145.1 271.4 139.0 256.9 135.0 250.0C131.0 243.1 118.0 231.9 120.0 225.0Z" fill="#fb4d16"/>
<path d="M160.0 332.7C163.8 327.7 167.5 322.9 172.6 320.2C177.6 317.5 183.4 316.8 190.1 316.4C196.8 316.0 205.6 316.6 212.7 317.7C219.8 318.7 227.3 320.2 232.7 322.7C238.1 325.2 242.3 328.9 245.2 332.7C248.2 336.5 246.5 342.3 250.3 345.2C254.0 348.2 262.4 349.0 267.8 350.3C273.2 351.5 280.7 349.8 282.8 352.8C284.9 355.7 282.8 364.0 280.3 367.8C277.8 371.6 271.6 372.4 267.8 375.3C264.0 378.2 259.0 381.2 257.8 385.3C256.5 389.5 278.2 397.9 260.3 400.4C242.3 402.9 168.4 408.7 150.0 400.4C131.6 392.0 148.3 361.5 150.0 350.3C151.7 339.0 156.3 337.7 160.0 332.7Z" fill="#fb4d16"/>
<path d="M147.5 247.5C165.5 243.7 238.1 245.4 255.3 247.5C272.4 249.6 254.0 256.7 250.3 260.0C246.5 263.4 239.0 265.9 232.7 267.5C226.4 269.2 218.1 268.0 212.7 270.1C207.2 272.1 204.3 278.0 200.1 280.1C195.9 282.2 191.8 283.0 187.6 282.6C183.4 282.2 179.2 279.2 175.1 277.6C170.9 275.9 167.1 273.8 162.5 272.6C157.9 271.3 150.0 274.2 147.5 270.1C145.0 265.9 129.5 251.3 147.5 247.5Z" fill="#fb4d16"/>
<path d="M254.0 315.2C254.8 311.2 258.4 307.4 262.8 306.4C267.2 305.3 275.7 306.6 280.3 308.9C284.9 311.2 289.3 316.2 290.4 320.2C291.4 324.1 289.5 330.0 286.6 332.7C283.7 335.4 277.6 336.9 272.8 336.5C268.0 336.0 260.9 333.8 257.8 330.2C254.6 326.6 253.2 319.1 254.0 315.2Z" fill="#fb4d16"/>
<path d="M297.9 302.6C299.2 299.9 302.9 296.8 305.4 296.4C307.9 295.9 311.7 296.6 312.9 300.1C314.2 303.7 314.6 314.3 312.9 317.7C311.2 321.0 305.5 321.0 302.9 320.2C300.3 319.3 298.2 315.6 297.4 312.7C296.5 309.7 296.5 305.3 297.9 302.6Z" fill="#fb4d16"/>
<path d="M255.3 265.0C257.1 261.7 263.6 257.5 267.8 257.5C272.0 257.5 278.7 260.9 280.3 265.0C282.0 269.2 280.3 278.8 277.8 282.6C275.3 286.3 268.8 288.4 265.3 287.6C261.7 286.8 258.2 281.3 256.5 277.6C254.8 273.8 253.4 268.4 255.3 265.0Z" fill="#fb4d16"/>
<path d="M330.1 406.5C331.0 404.8 335.3 402.5 337.6 402.8C339.9 403.0 343.4 406.0 343.9 407.8C344.3 409.5 342.1 412.4 340.1 413.3C338.1 414.1 333.8 413.9 332.1 412.8C330.4 411.7 329.2 408.2 330.1 406.5Z" fill="#fb4d16"/>
<path d="M419.0 300.0C420.2 298.7 424.1 298.3 425.3 300.0C426.6 301.7 427.2 307.7 426.6 310.0C425.9 312.3 422.9 314.2 421.6 313.8C420.2 313.4 418.7 309.8 418.3 307.5C417.9 305.2 417.9 301.3 419.0 300.0Z" fill="#fb4d16"/>
<path d="M32.5 342.5C46.7 317.0 102.9 339.6 117.7 342.5C132.5 345.4 120.6 355.0 121.5 360.0C122.3 365.1 121.3 368.8 122.7 372.6C124.2 376.3 126.9 381.3 130.2 382.6C133.6 383.8 139.8 382.6 142.8 380.1C145.7 377.6 147.4 372.2 147.8 367.6C148.2 363.0 145.3 356.7 145.3 352.5C145.3 348.3 138.6 344.2 147.8 342.5C157.0 340.8 191.6 327.9 200.4 342.5C209.2 357.1 202.9 415.6 200.4 430.2C197.9 444.8 190.4 429.8 185.4 430.2C180.4 430.6 175.8 431.0 170.3 432.7C164.9 434.4 158.6 439.8 152.8 440.2C146.9 440.7 141.5 436.5 135.3 435.2C129.0 434.0 120.6 431.0 115.2 432.7C109.8 434.4 103.9 439.0 102.7 445.3C101.4 451.5 106.4 462.0 107.7 470.3C108.9 478.7 122.7 491.2 110.2 495.4C97.7 499.6 45.4 520.9 32.5 495.4C19.5 469.9 18.3 368.0 32.5 342.5Z" fill="#fb4d16"/>
<path d="M120.2 537.2C122.3 530.6 130.7 531.8 135.3 532.2C139.8 532.6 145.7 535.1 147.8 539.7C149.9 544.3 149.9 554.4 147.8 559.8C145.7 565.2 139.4 570.2 135.3 572.3C131.1 574.4 125.2 578.2 122.7 572.3C120.2 566.5 118.1 543.9 120.2 537.2Z" fill="#fb4d16"/>
<path d="M140.3 514.7C142.4 511.8 149.5 510.5 155.3 512.2C161.1 513.8 172.0 518.9 175.4 524.7C178.7 530.6 177.9 544.3 175.4 547.3C172.8 550.2 165.7 545.2 160.3 542.3C154.9 539.3 146.1 534.3 142.8 529.7C139.4 525.1 138.2 517.6 140.3 514.7Z" fill="#fb4d16"/>
<path d="M170.0 390.0C173.3 377.5 183.8 390.0 190.1 392.5C196.3 395.0 201.3 401.7 207.6 405.1C213.9 408.4 223.0 408.4 227.6 412.6C232.2 416.8 235.2 424.7 235.2 430.1C235.2 435.6 231.4 441.0 227.6 445.2C223.9 449.3 217.2 451.8 212.6 455.2C208.0 458.5 204.7 464.0 200.1 465.2C195.5 466.5 190.1 462.3 185.0 462.7C180.0 463.1 172.5 479.8 170.0 467.7C167.5 455.6 166.7 402.6 170.0 390.0Z" fill="#fb4d16"/>
<path d="M241.4 395.0C242.5 391.7 247.5 387.1 250.2 387.5C252.9 387.9 257.1 393.8 257.7 397.5C258.3 401.3 256.3 408.4 254.0 410.1C251.7 411.7 246.0 410.1 243.9 407.6C241.8 405.1 240.4 398.4 241.4 395.0Z" fill="#fb4d16"/>
<path d="M270.3 462.7C271.3 459.4 276.1 455.2 279.0 455.2C281.9 455.2 287.0 459.6 287.8 462.7C288.6 465.8 286.5 471.9 284.0 474.0C281.5 476.1 275.1 477.1 272.8 475.2C270.5 473.4 269.2 466.0 270.3 462.7Z" fill="#fb4d16"/>
<path d="M300.3 490.3C301.4 487.4 307.0 482.8 310.4 482.8C313.7 482.8 319.5 487.4 320.4 490.3C321.2 493.2 318.1 498.6 315.4 500.3C312.6 502.0 306.6 502.0 304.1 500.3C301.6 498.6 299.3 493.2 300.3 490.3Z" fill="#fb4d16"/>
<path d="M170.0 482.8C171.7 480.7 177.9 483.2 180.0 485.3C182.1 487.4 184.2 493.2 182.5 495.3C180.9 497.4 172.1 499.9 170.0 497.8C167.9 495.7 168.3 484.8 170.0 482.8Z" fill="#fb4d16"/>
<path d="M215.1 465.2C215.7 463.3 219.9 462.9 221.4 464.0C222.8 465.0 224.5 469.6 223.9 471.5C223.3 473.4 219.1 476.3 217.6 475.2C216.2 474.2 214.5 467.1 215.1 465.2Z" fill="#fb4d16"/>
<path d="M355.1 477.7C355.6 474.6 359.1 471.4 361.4 471.4C363.7 471.4 367.9 475.0 368.9 477.7C370.0 480.4 369.3 485.6 367.7 487.7C366.0 489.8 361.0 491.9 358.9 490.2C356.8 488.6 354.7 480.8 355.1 477.7Z" fill="#fb4d16"/>
<path d="M326.3 490.2C327.2 487.7 332.0 485.2 335.1 485.2C338.2 485.2 343.9 487.7 345.1 490.2C346.4 492.7 345.1 498.6 342.6 500.3C340.1 501.9 332.8 501.9 330.1 500.3C327.4 498.6 325.5 492.7 326.3 490.2Z" fill="#fb4d16"/>
<path d="M300.0 487.7C301.7 484.8 307.7 484.8 310.0 486.5C312.3 488.1 314.2 494.6 313.8 497.7C313.4 500.9 309.8 504.2 307.5 505.3C305.2 506.3 301.3 506.9 300.0 504.0C298.7 501.1 298.3 490.6 300.0 487.7Z" fill="#fb4d16"/>
<path d="M397.2 499.0C398.0 497.1 401.0 494.8 402.8 495.2C404.5 495.7 407.6 499.2 407.8 501.5C408.0 503.8 405.6 508.2 404.0 509.0C402.4 509.9 399.4 508.2 398.2 506.5C397.1 504.8 396.5 500.9 397.2 499.0Z" fill="#fb4d16"/>
<path d="M326.3 407.5C326.3 405.4 332.6 402.3 335.1 402.5C337.6 402.7 341.4 406.7 341.4 408.8C341.4 410.9 337.6 415.2 335.1 415.0C332.6 414.8 326.3 409.6 326.3 407.5Z" fill="#fb4d16"/>
<path d="M341.4 472.7C342.0 470.6 346.2 469.1 347.6 470.2C349.1 471.2 350.8 476.9 350.1 478.9C349.5 481.0 345.3 483.8 343.9 482.7C342.4 481.7 340.7 474.8 341.4 472.7Z" fill="#fb4d16"/>
<path d="M150.0 517.5C151.7 511.7 156.2 517.9 160.0 520.0C163.8 522.1 168.8 527.5 172.5 530.0C176.2 532.5 180.0 532.5 182.5 535.0C185.0 537.5 187.9 542.1 187.5 545.0C187.1 547.9 186.2 550.8 180.0 552.5C173.8 554.2 155.0 560.8 150.0 555.0C145.0 549.2 148.3 523.3 150.0 517.5Z" fill="#fb4d16"/>
<path d="M218.8 540.0C219.6 537.5 224.4 532.9 227.5 532.5C230.6 532.1 236.2 535.0 237.5 537.5C238.8 540.0 237.5 545.8 235.0 547.5C232.5 549.2 225.2 548.8 222.5 547.5C219.8 546.2 217.9 542.5 218.8 540.0Z" fill="#fb4d16"/>
<path d="M163.8 485.0C164.8 482.3 169.4 479.6 172.5 480.0C175.6 480.4 181.5 484.6 182.5 487.5C183.5 490.4 181.5 496.0 178.8 497.5C176.0 499.0 168.8 498.3 166.2 496.2C163.8 494.2 162.7 487.7 163.8 485.0Z" fill="#fb4d16"/>
<path d="M257.5 570.0C258.3 565.2 263.8 563.8 267.5 563.8C271.2 563.8 276.9 566.9 280.0 570.0C283.1 573.1 285.4 578.8 286.2 582.5C287.1 586.2 289.0 590.8 285.0 592.5C281.0 594.2 267.1 596.2 262.5 592.5C257.9 588.8 256.7 574.8 257.5 570.0Z" fill="#fb4d16"/>
<path d="M300.0 547.5C301.5 545.4 308.1 543.3 310.0 545.0C311.9 546.7 312.7 555.4 311.2 557.5C309.8 559.6 303.1 559.2 301.2 557.5C299.4 555.8 298.5 549.6 300.0 547.5Z" fill="#fb4d16"/>
<path d="M205.0 508.8C205.6 507.5 209.0 506.7 210.0 507.5C211.0 508.3 211.9 512.5 211.2 513.8C210.6 515.0 207.3 515.8 206.2 515.0C205.2 514.2 204.4 510.0 205.0 508.8Z" fill="#fb4d16"/>
<path d="M472.7 315.2C473.7 312.9 477.8 310.0 479.9 310.5C482.0 311.1 485.1 315.6 485.3 318.4C485.4 321.1 482.8 326.1 480.9 327.1C479.0 328.2 475.3 326.6 474.0 324.6C472.6 322.7 471.7 317.6 472.7 315.2Z" fill="#fb4d16"/>
<path d="M504.1 287.0C504.9 284.1 508.0 280.0 509.7 280.8C511.4 281.5 514.3 288.1 514.4 291.7C514.5 295.4 511.9 301.7 510.3 302.7C508.8 303.7 506.1 300.6 505.0 298.0C504.0 295.4 503.3 289.9 504.1 287.0Z" fill="#fb4d16"/>
<path d="M419.4 301.1C420.3 299.7 423.2 298.3 424.5 298.9C425.7 299.6 427.1 303.3 427.0 305.2C426.8 307.1 424.8 310.2 423.5 310.5C422.3 310.9 420.1 309.0 419.4 307.4C418.8 305.8 418.6 302.5 419.4 301.1Z" fill="#fb4d16"/>
<path d="M292.7 207.9C293.1 206.0 297.7 204.9 300.2 205.0C302.7 205.2 306.8 207.1 307.7 208.8C308.6 210.5 307.6 214.1 305.8 215.4C304.1 216.6 299.6 217.6 297.4 216.3C295.2 215.1 292.2 209.7 292.7 207.9Z" fill="#fb4d16"/>
<path d="M268.2 246.4C269.3 244.7 274.8 244.0 277.6 244.5C280.5 245.0 284.5 247.3 285.2 249.2C285.8 251.1 283.7 254.8 281.4 255.8C279.0 256.7 273.2 256.4 271.1 254.8C268.9 253.3 267.1 248.1 268.2 246.4Z" fill="#fb4d16"/>
<path d="M143.0 500.0C144.8 495.8 153.8 493.3 158.0 495.0C162.2 496.7 165.7 503.3 168.0 510.0C170.3 516.7 172.5 527.5 172.0 535.0C171.5 542.5 168.7 550.0 165.0 555.0C161.3 560.0 153.7 566.7 150.0 565.0C146.3 563.3 143.5 552.5 143.0 545.0C142.5 537.5 147.0 527.5 147.0 520.0C147.0 512.5 141.2 504.2 143.0 500.0Z" fill="#fb4d16"/>
<path d="M222.0 362.0C224.7 357.0 234.0 357.5 240.0 358.0C246.0 358.5 254.0 361.3 258.0 365.0C262.0 368.7 264.5 375.0 264.0 380.0C263.5 385.0 259.3 392.0 255.0 395.0C250.7 398.0 243.2 399.2 238.0 398.0C232.8 396.8 226.7 394.0 224.0 388.0C221.3 382.0 219.3 367.0 222.0 362.0Z" fill="#fb4d16"/>
<path d="M232.0 178.0C234.0 173.0 237.0 167.3 240.0 160.0C243.0 152.7 246.3 135.7 250.0 134.0C253.7 132.3 259.5 144.0 262.0 150.0C264.5 156.0 265.0 163.7 265.0 170.0C265.0 176.3 264.5 183.0 262.0 188.0C259.5 193.0 254.0 198.5 250.0 200.0C246.0 201.5 241.7 198.7 238.0 197.0C234.3 195.3 229.0 193.2 228.0 190.0C227.0 186.8 230.0 183.0 232.0 178.0Z" fill="#ff8410"/>
<path d="M268.0 152.0C270.2 148.7 281.0 148.7 285.0 150.0C289.0 151.3 292.0 155.8 292.0 160.0C292.0 164.2 288.3 173.3 285.0 175.0C281.7 176.7 274.8 173.8 272.0 170.0C269.2 166.2 265.8 155.3 268.0 152.0Z" fill="#ff8410"/>
<path d="M161.4 205.2C163.0 201.4 169.1 198.1 172.6 197.7C176.2 197.3 178.5 200.2 182.7 202.7C186.8 205.2 195.6 208.9 197.7 212.7C199.8 216.5 197.7 221.5 195.2 225.2C192.7 229.0 186.8 234.4 182.7 235.3C178.5 236.1 173.5 232.8 170.1 230.3C166.8 227.7 164.1 224.4 162.6 220.2C161.2 216.0 159.7 208.9 161.4 205.2Z" fill="#ff8410"/>
<path d="M180.2 230.3C182.5 226.9 191.4 226.1 195.2 227.7C199.0 229.4 201.9 235.7 202.7 240.3C203.6 244.9 202.7 252.0 200.2 255.3C197.7 258.7 190.8 261.6 187.7 260.3C184.5 259.1 182.7 252.8 181.4 247.8C180.2 242.8 177.9 233.6 180.2 230.3Z" fill="#ff8410"/>
<path d="M127.5 222.7C128.4 220.2 132.5 215.6 135.1 215.2C137.6 214.8 141.7 217.7 142.6 220.2C143.4 222.7 142.2 228.6 140.1 230.3C138.0 231.9 132.1 231.5 130.0 230.3C127.9 229.0 126.7 225.2 127.5 222.7Z" fill="#ff8410"/>
<path d="M137.6 260.3C138.8 257.4 146.3 254.5 150.1 255.3C153.8 256.1 159.3 262.0 160.1 265.3C160.9 268.7 158.0 274.1 155.1 275.4C152.2 276.6 145.5 275.4 142.6 272.9C139.6 270.4 136.3 263.2 137.6 260.3Z" fill="#ff8410"/>
<path d="M255.4 245.3C256.8 242.4 261.2 238.6 262.9 240.3C264.5 241.9 265.8 251.1 265.4 255.3C265.0 259.5 262.2 264.9 260.4 265.3C258.5 265.8 254.9 261.2 254.1 257.8C253.3 254.5 253.9 248.2 255.4 245.3Z" fill="#ff8410"/>
<path d="M260.3 352.8C262.4 350.7 269.0 349.8 272.8 350.3C276.6 350.7 281.6 352.5 282.8 355.3C284.1 358.0 282.8 364.0 280.3 366.5C277.8 369.0 271.1 370.9 267.8 370.3C264.5 369.7 261.5 365.7 260.3 362.8C259.0 359.9 258.2 354.8 260.3 352.8Z" fill="#ff8410"/>
<path d="M52.5 412.7C53.4 409.3 59.2 407.2 62.6 407.7C65.9 408.1 71.3 411.8 72.6 415.2C73.8 418.5 72.6 425.6 70.1 427.7C67.6 429.8 60.5 430.2 57.6 427.7C54.6 425.2 51.7 416.0 52.5 412.7Z" fill="#ff8410"/>
<path d="M78.1 509.2C78.9 507.5 82.7 506.4 85.1 506.7C87.5 507.0 92.0 509.2 92.6 510.9C93.3 512.7 91.0 516.2 88.9 517.2C86.8 518.1 81.9 518.0 80.1 516.7C78.3 515.4 77.3 510.8 78.1 509.2Z" fill="#ff8410"/>
<path d="M188.2 210.2C188.6 208.1 192.6 206.9 193.9 207.7C195.3 208.5 196.9 213.1 196.5 215.2C196.0 217.3 192.8 221.1 191.4 220.2C190.1 219.4 187.8 212.3 188.2 210.2Z" fill="#dfc004"/>
<path d="M145.1 257.8C145.8 256.1 150.1 254.5 151.3 255.3C152.6 256.1 153.3 261.2 152.6 262.8C151.9 264.5 148.3 266.2 147.1 265.3C145.8 264.5 144.4 259.5 145.1 257.8Z" fill="#dfc004"/>
<path d="M182.6 297.6C183.0 294.7 187.6 292.6 190.1 292.6C192.6 292.6 196.6 294.9 197.6 297.6C198.7 300.3 198.0 306.8 196.4 308.9C194.7 311.0 189.9 312.0 187.6 310.2C185.3 308.3 182.2 300.5 182.6 297.6Z" fill="#dfc004"/>
<path d="M282.8 285.1C284.1 283.8 288.6 282.0 290.4 282.6C292.1 283.2 293.8 287.1 293.4 288.8C292.9 290.6 289.6 292.9 287.8 293.1C286.1 293.3 283.7 291.4 282.8 290.1C282.0 288.8 281.6 286.3 282.8 285.1Z" fill="#dfc004"/>
<path d="M287.8 350.3C289.7 348.2 296.4 345.2 300.4 345.2C304.3 345.2 309.8 347.3 311.7 350.3C313.5 353.2 314.0 360.7 311.7 362.8C309.4 364.9 301.6 363.6 297.9 362.8C294.1 361.9 290.8 359.9 289.1 357.8C287.4 355.7 286.0 352.3 287.8 350.3Z" fill="#dfc004"/>
<path d="M300.0 431.6C301.3 428.7 305.8 428.9 307.5 430.3C309.2 431.8 310.4 437.4 310.0 440.4C309.6 443.3 306.7 446.6 305.0 447.9C303.3 449.1 300.8 450.6 300.0 447.9C299.2 445.2 298.7 434.5 300.0 431.6Z" fill="#dfc004"/>
<path d="M357.6 430.3C358.3 428.2 364.3 427.0 366.4 427.8C368.5 428.7 370.8 433.2 370.2 435.3C369.5 437.4 364.7 441.2 362.7 440.4C360.6 439.5 357.0 432.4 357.6 430.3Z" fill="#dfc004"/>
<path d="M241.5 274.6C242.5 272.1 246.6 270.2 248.5 270.8C250.4 271.5 252.9 275.5 253.2 278.3C253.5 281.2 252.1 286.5 250.4 287.7C248.7 289.0 244.3 288.1 242.9 285.9C241.4 283.7 240.6 277.1 241.5 274.6Z" fill="#dfc004"/>
<path d="M141.3 212.7C141.9 209.4 144.0 205.2 146.3 203.9C148.6 202.7 153.4 202.9 155.1 205.2C156.8 207.5 157.2 214.2 156.4 217.7C155.5 221.3 152.4 225.4 150.1 226.5C147.8 227.5 144.0 226.3 142.6 224.0C141.1 221.7 140.7 216.0 141.3 212.7Z" fill="#e30c3c"/>
<path d="M216.5 187.6C217.3 184.9 220.3 180.8 222.8 180.1C225.3 179.5 229.9 181.4 231.5 183.9C233.2 186.4 233.8 192.4 232.8 195.2C231.8 197.9 227.8 200.0 225.3 200.2C222.8 200.4 219.2 198.5 217.8 196.4C216.3 194.3 215.7 190.4 216.5 187.6Z" fill="#e30c3c"/>
<path d="M246.6 200.2C247.4 195.6 248.9 192.0 251.6 190.2C254.3 188.3 259.7 187.2 262.9 188.9C266.0 190.6 269.6 195.4 270.4 200.2C271.2 205.0 269.6 212.3 267.9 217.7C266.2 223.1 263.1 230.7 260.4 232.8C257.6 234.8 253.9 232.8 251.6 230.3C249.3 227.7 247.4 222.7 246.6 217.7C245.7 212.7 245.7 204.8 246.6 200.2Z" fill="#e30c3c"/>
<path d="M150.1 249.0C150.7 247.8 154.1 247.0 155.1 247.8C156.1 248.6 157.0 252.8 156.4 254.1C155.7 255.3 152.4 256.1 151.3 255.3C150.3 254.5 149.5 250.3 150.1 249.0Z" fill="#e30c3c"/>
<path d="M202.7 266.6C203.6 264.9 207.7 264.1 209.0 265.3C210.2 266.6 211.1 272.4 210.2 274.1C209.4 275.8 205.2 276.6 204.0 275.4C202.7 274.1 201.9 268.3 202.7 266.6Z" fill="#e30c3c"/>
<path d="M171.3 325.2C172.3 322.1 177.2 320.2 180.1 320.2C183.0 320.2 187.2 322.5 188.8 325.2C190.5 327.9 191.1 333.5 190.1 336.5C189.1 339.4 185.3 342.3 182.6 342.7C179.9 343.1 175.7 341.9 173.8 339.0C171.9 336.0 170.3 328.3 171.3 325.2Z" fill="#e30c3c"/>
<path d="M187.6 355.3C189.7 351.9 195.5 350.7 200.1 350.3C204.7 349.8 211.0 351.1 215.2 352.8C219.3 354.4 223.9 356.9 225.2 360.3C226.4 363.6 225.2 369.5 222.7 372.8C220.2 376.1 214.7 379.1 210.2 380.3C205.6 381.6 198.9 382.0 195.1 380.3C191.4 378.7 188.8 374.5 187.6 370.3C186.3 366.1 185.5 358.6 187.6 355.3Z" fill="#e30c3c"/>
<path d="M261.5 272.1C262.3 270.8 266.5 270.4 267.8 271.3C269.0 272.2 269.8 276.3 269.0 277.6C268.3 278.8 264.5 279.7 263.3 278.8C262.0 277.9 260.8 273.3 261.5 272.1Z" fill="#e30c3c"/>
<path d="M50.0 395.1C52.1 390.9 59.2 385.5 65.1 380.1C70.9 374.7 79.3 365.3 85.1 362.5C91.0 359.8 95.6 361.7 100.2 363.8C104.8 365.9 108.9 370.3 112.7 375.1C116.5 379.9 119.0 387.6 122.7 392.6C126.5 397.6 131.5 401.6 135.3 405.2C139.0 408.7 143.5 411.2 145.3 413.9C147.0 416.6 147.4 418.6 145.8 421.4C144.1 424.2 139.9 429.0 135.3 430.7C130.6 432.5 123.3 432.4 117.7 432.0C112.1 431.5 105.6 430.5 101.4 428.2C97.2 425.9 96.0 422.2 92.6 418.2C89.3 414.1 85.5 405.6 81.4 403.9C77.2 402.2 72.4 407.9 67.6 408.2C62.8 408.5 55.5 407.8 52.5 405.7C49.6 403.5 47.9 399.4 50.0 395.1Z" fill="#e30c3c"/>
<path d="M38.8 477.8C40.4 474.1 45.2 474.1 50.0 472.8C54.8 471.6 61.7 469.9 67.6 470.3C73.4 470.7 82.2 471.1 85.1 475.3C88.0 479.5 92.6 492.0 85.1 495.4C77.6 498.7 47.7 498.3 40.0 495.4C32.3 492.5 37.1 481.6 38.8 477.8Z" fill="#e30c3c"/>
<path d="M185.4 352.5C186.6 348.8 193.3 348.3 195.4 352.5C197.5 356.7 199.2 373.8 197.9 377.6C196.7 381.3 190.0 379.3 187.9 375.1C185.8 370.9 184.1 356.3 185.4 352.5Z" fill="#e30c3c"/>
<path d="M40.0 479.6C41.7 476.7 49.6 472.9 55.1 472.1C60.5 471.2 68.4 472.9 72.6 474.6C76.8 476.3 77.6 479.2 80.1 482.1C82.6 485.0 83.5 490.5 87.6 492.1C91.8 493.8 99.7 492.5 105.2 492.1C110.6 491.7 115.6 488.4 120.2 489.6C124.8 490.9 129.6 495.5 132.7 499.6C135.9 503.8 139.0 510.1 139.0 514.7C139.0 519.3 135.5 523.5 132.7 527.2C130.0 531.0 124.8 533.1 122.7 537.2C120.6 541.4 122.3 548.5 120.2 552.3C118.1 556.0 112.7 561.5 110.2 559.8C107.7 558.1 107.7 546.4 105.2 542.3C102.7 538.1 102.7 535.6 95.2 534.7C87.6 533.9 66.7 540.2 60.1 537.2C53.4 534.3 55.5 523.9 55.1 517.2C54.6 510.5 59.2 501.7 57.6 497.1C55.9 492.5 47.9 492.5 45.0 489.6C42.1 486.7 38.3 482.5 40.0 479.6Z" fill="#e30c3c"/>
<path d="M181.3 417.6C182.1 414.9 186.5 412.2 188.8 412.6C191.1 413.0 194.4 417.2 195.1 420.1C195.7 423.0 194.4 428.7 192.6 430.1C190.7 431.6 185.7 431.0 183.8 428.9C181.9 426.8 180.4 420.3 181.3 417.6Z" fill="#e30c3c"/>
<path d="M198.8 437.6C199.7 434.5 203.2 431.8 205.1 432.6C207.0 433.5 209.9 438.9 210.1 442.7C210.3 446.4 208.1 453.7 206.3 455.2C204.6 456.6 200.8 454.4 199.6 451.4C198.3 448.5 197.9 440.8 198.8 437.6Z" fill="#e30c3c"/>
<path d="M245.7 201.3C246.9 197.5 249.7 194.9 253.2 193.8C256.6 192.7 263.2 192.8 266.4 194.7C269.5 196.6 271.5 200.8 272.0 205.0C272.5 209.3 271.1 215.7 269.2 220.1C267.3 224.5 264.0 229.8 260.7 231.4C257.4 232.9 251.9 232.0 249.4 229.5C247.0 227.0 246.7 221.0 246.1 216.3C245.4 211.6 244.5 205.0 245.7 201.3Z" fill="#e30c3c"/>
<path d="M182.0 398.0C184.0 392.0 192.2 390.8 196.0 392.0C199.8 393.2 203.7 399.5 205.0 405.0C206.3 410.5 205.7 419.8 204.0 425.0C202.3 430.2 198.3 435.5 195.0 436.0C191.7 436.5 186.2 434.3 184.0 428.0C181.8 421.7 180.0 404.0 182.0 398.0Z" fill="#e30c3c"/>
<path d="M178.0 345.0C180.0 340.3 185.7 339.8 190.0 340.0C194.3 340.2 200.3 342.7 204.0 346.0C207.7 349.3 211.7 355.0 212.0 360.0C212.3 365.0 209.7 372.7 206.0 376.0C202.3 379.3 194.7 381.3 190.0 380.0C185.3 378.7 180.0 373.8 178.0 368.0C176.0 362.2 176.0 349.7 178.0 345.0Z" fill="#e30c3c"/>
<path d="M105.0 510.0C108.2 505.0 118.3 500.8 125.0 500.0C131.7 499.2 141.2 500.8 145.0 505.0C148.8 509.2 148.8 518.3 148.0 525.0C147.2 531.7 143.8 539.5 140.0 545.0C136.2 550.5 129.7 557.5 125.0 558.0C120.3 558.5 115.2 552.7 112.0 548.0C108.8 543.3 107.2 536.3 106.0 530.0C104.8 523.7 101.8 515.0 105.0 510.0Z" fill="#e30c3c"/>
<path d="M95.0 385.0C99.2 381.7 108.8 379.5 115.0 380.0C121.2 380.5 127.3 384.7 132.0 388.0C136.7 391.3 140.5 395.0 143.0 400.0C145.5 405.0 147.0 412.5 147.0 418.0C147.0 423.5 145.8 429.7 143.0 433.0C140.2 436.3 134.7 438.5 130.0 438.0C125.3 437.5 120.0 433.8 115.0 430.0C110.0 426.2 104.2 420.0 100.0 415.0C95.8 410.0 90.8 405.0 90.0 400.0C89.2 395.0 90.8 388.3 95.0 385.0Z" fill="#e30c3c"/>
<path d="M145.1 207.7C145.3 205.4 147.4 204.1 148.8 203.9C150.3 203.7 153.1 204.4 153.8 206.4C154.6 208.5 154.1 214.6 153.1 216.5C152.1 218.3 148.9 219.2 147.6 217.7C146.2 216.3 144.9 210.0 145.1 207.7Z" fill="#aa0c18"/>
<path d="M249.1 201.4C249.2 198.3 251.4 196.8 252.8 196.4C254.3 196.0 257.1 196.0 257.9 198.9C258.6 201.8 258.3 211.2 257.4 214.0C256.4 216.7 253.7 217.3 252.3 215.2C251.0 213.1 249.0 204.6 249.1 201.4Z" fill="#aa0c18"/>
<path d="M192.6 361.5C193.6 358.8 196.8 356.7 198.9 356.5C201.0 356.3 204.0 357.6 205.1 360.3C206.3 363.0 206.7 369.9 205.6 372.8C204.6 375.7 201.0 377.8 198.9 377.8C196.8 377.8 194.2 375.5 193.1 372.8C192.1 370.1 191.6 364.2 192.6 361.5Z" fill="#aa0c18"/>
<path d="M53.8 393.9C55.1 389.9 62.4 384.1 67.6 380.1C72.8 376.1 81.6 369.6 85.1 370.1C88.7 370.5 89.3 378.4 88.9 382.6C88.5 386.8 85.3 392.0 82.6 395.1C79.9 398.3 76.4 399.9 72.6 401.4C68.8 402.9 63.2 405.2 60.1 403.9C56.9 402.6 52.5 397.8 53.8 393.9Z" fill="#aa0c18"/>
<path d="M125.7 420.2C126.0 417.9 129.5 414.9 131.5 414.7C133.5 414.5 136.9 417.0 137.8 418.9C138.6 420.9 137.8 424.9 136.5 426.5C135.2 428.0 131.5 429.3 129.7 428.2C127.9 427.2 125.4 422.4 125.7 420.2Z" fill="#aa0c18"/>
<path d="M61.3 522.2C63.0 519.5 68.6 518.4 72.6 518.4C76.6 518.4 80.9 520.5 85.1 522.2C89.3 523.9 95.8 525.8 97.7 528.5C99.5 531.2 98.5 536.4 96.4 538.5C94.3 540.6 89.1 540.8 85.1 541.0C81.2 541.2 76.4 540.8 72.6 539.7C68.8 538.7 64.4 537.7 62.6 534.7C60.7 531.8 59.6 524.9 61.3 522.2Z" fill="#aa0c18"/>
<path d="M249.4 201.3C250.4 199.4 253.8 197.5 256.0 197.5C258.2 197.5 261.7 199.1 262.6 201.3C263.5 203.5 262.9 208.6 261.7 210.7C260.4 212.7 257.0 213.8 255.1 213.5C253.2 213.2 251.3 210.8 250.4 208.8C249.4 206.8 248.5 203.2 249.4 201.3Z" fill="#aa0c18"/>
<path d="M195.1 364.0C195.8 362.2 198.8 359.9 200.1 360.3C201.5 360.7 203.1 364.2 203.1 366.5C203.1 368.8 201.3 373.2 200.1 374.1C198.9 374.9 196.7 373.2 195.9 371.6C195.0 369.9 194.4 365.9 195.1 364.0Z" fill="#6b1410"/>
<path d="M56.3 395.1C57.1 392.5 62.4 387.2 65.1 386.4C67.8 385.5 71.8 388.0 72.6 390.1C73.4 392.2 72.2 396.9 70.1 398.9C68.0 400.9 62.4 402.8 60.1 402.1C57.8 401.5 55.5 397.8 56.3 395.1Z" fill="#6b1410"/>
</g></g>
<path d="M389.0 145.0C389.2 147.3 392.1 158.9 390.3 162.6C388.5 166.3 378.2 169.3 375.2 172.6C372.2 175.9 368.0 183.9 367.7 187.6C367.4 191.3 373.7 196.7 372.7 200.0C371.7 203.3 361.3 208.7 360.0 212.7C358.7 216.7 361.0 226.0 362.7 230.0C364.4 234.0 371.7 238.8 372.7 242.8C373.7 246.8 369.7 255.3 370.0 260.0C370.3 264.7 373.7 274.0 375.0 278.0C376.3 282.0 379.6 285.7 380.0 290.0C380.4 294.3 376.9 304.9 378.0 310.0C379.1 315.1 385.1 324.9 388.0 328.0C390.9 331.1 396.4 333.8 400.0 333.0C403.6 332.2 411.0 323.1 415.0 322.0C419.0 320.9 428.0 324.6 430.0 325.0" fill="none" stroke="#7a4a10" stroke-opacity="0.75" stroke-width="0.7"/>
<path d="M305.0 162.6C306.3 164.3 312.3 171.0 315.0 175.0C317.7 179.0 324.3 187.6 325.0 192.6C325.7 197.6 322.7 206.7 320.0 212.7C317.3 218.7 309.0 232.8 305.0 237.8C301.0 242.8 293.3 246.8 290.0 250.0C286.7 253.2 283.0 261.3 280.0 262.0C277.0 262.7 269.4 255.9 267.8 255.0" fill="none" stroke="#7a4a10" stroke-opacity="0.75" stroke-width="0.7"/>
<path d="M320.0 262.7C320.3 265.0 324.3 275.3 322.6 280.0C320.9 284.7 308.3 293.1 307.6 297.8C306.9 302.5 316.6 311.4 317.6 315.0C318.6 318.6 315.0 320.3 315.0 325.0C315.0 329.7 317.8 343.3 317.5 350.0C317.2 356.7 314.8 369.0 312.5 375.0C310.2 381.0 301.7 392.3 300.0 395.0" fill="none" stroke="#7a4a10" stroke-opacity="0.75" stroke-width="0.7"/>
<path d="M270.0 285.0C272.0 285.7 281.0 288.3 285.0 290.0C289.0 291.7 296.3 296.1 300.0 297.8C303.7 299.5 310.9 302.1 312.6 302.8" fill="none" stroke="#7a4a10" stroke-opacity="0.75" stroke-width="0.7"/>
<path d="M430.0 325.0C430.7 328.3 433.7 343.3 435.0 350.0C436.3 356.7 440.0 370.0 440.0 375.0C440.0 380.0 435.7 386.0 435.0 387.7" fill="none" stroke="#7a4a10" stroke-opacity="0.75" stroke-width="0.7"/>
<path d="M342.6 382.7C343.6 385.7 349.3 399.4 350.0 405.0C350.7 410.6 346.6 419.3 347.6 425.0C348.6 430.7 357.0 442.0 357.6 448.0C358.2 454.0 351.7 464.4 352.0 470.0C352.3 475.6 357.3 485.3 360.0 490.0C362.7 494.7 370.9 501.0 372.0 505.0C373.1 509.0 367.6 515.9 368.0 520.0C368.4 524.1 374.1 533.9 375.0 536.0" fill="none" stroke="#7a4a10" stroke-opacity="0.75" stroke-width="0.7"/>
<path d="M442.0 312.0C443.1 309.9 447.2 299.3 450.0 296.0C452.8 292.7 458.1 289.5 462.7 287.0C467.3 284.5 480.4 279.7 484.6 277.6C488.8 275.5 490.7 269.7 494.0 271.0C497.3 272.3 507.6 284.9 509.7 287.0" fill="none" stroke="#7a4a10" stroke-opacity="0.75" stroke-width="0.7"/>
<path d="M442.0 312.0C440.7 313.1 433.6 317.5 432.0 320.0C430.4 322.5 430.1 329.5 429.8 331.0" fill="none" stroke="#7a4a10" stroke-opacity="0.75" stroke-width="0.7"/>
<path d="M67.6 465.0C69.9 463.0 80.7 453.0 85.0 450.0C89.3 447.0 96.3 445.7 100.0 442.7C103.7 439.7 108.0 429.0 112.7 427.7C117.4 426.4 130.3 431.4 135.0 432.7C139.7 434.0 143.8 437.7 147.8 437.7C151.8 437.7 161.4 432.4 165.0 432.7C168.6 433.0 171.7 437.7 175.0 440.0C178.3 442.3 186.0 448.0 190.0 450.0C194.0 452.0 200.7 454.7 205.0 455.0C209.3 455.3 220.3 452.4 222.6 452.0" fill="none" stroke="#7a4a10" stroke-opacity="0.75" stroke-width="0.7"/>
<path d="M222.6 422.6C223.9 424.6 232.0 433.3 232.7 437.6C233.4 441.9 226.6 451.3 227.6 455.0C228.6 458.7 236.3 464.0 240.0 465.0C243.7 466.0 251.0 461.7 255.0 462.7C259.0 463.7 267.3 472.7 270.0 472.7C272.7 472.7 272.3 464.4 275.0 462.7C277.7 461.0 286.7 459.0 290.0 460.0C293.3 461.0 296.7 469.3 300.0 470.0C303.3 470.7 311.0 464.3 315.0 465.0C319.0 465.7 326.0 474.3 330.0 475.0C334.0 475.7 343.0 470.7 345.0 470.0" fill="none" stroke="#7a4a10" stroke-opacity="0.75" stroke-width="0.7"/>
<path d="M185.0 292.6C187.0 292.9 196.7 295.7 200.0 295.0C203.3 294.3 206.7 288.3 210.0 287.6C213.3 286.9 222.0 291.3 225.0 290.0C228.0 288.7 230.0 279.6 232.7 277.6C235.4 275.6 241.4 276.7 245.0 275.0C248.6 273.3 257.0 267.7 260.0 265.0C263.0 262.3 266.8 256.3 267.8 255.0" fill="none" stroke="#7a4a10" stroke-opacity="0.75" stroke-width="0.7"/>
<path d="M150.0 349.0C152.0 350.5 161.3 357.5 165.0 360.0C168.7 362.5 175.3 365.8 177.6 367.8C179.9 369.8 180.3 372.7 182.6 375.0C184.9 377.3 192.0 381.7 195.0 385.0C198.0 388.3 201.3 395.0 205.0 400.0C208.7 405.0 220.3 419.6 222.6 422.6" fill="none" stroke="#7a4a10" stroke-opacity="0.75" stroke-width="0.7"/>
<path d="M232.7 355.0C235.0 355.4 247.0 355.8 250.0 357.8C253.0 359.8 252.6 366.7 255.0 370.0C257.4 373.3 263.8 380.4 267.8 382.8C271.8 385.2 280.7 386.4 285.0 388.0C289.3 389.6 296.0 394.7 300.0 395.0C304.0 395.3 311.0 390.0 315.0 390.0C319.0 390.0 326.3 396.0 330.0 395.0C333.7 394.0 340.9 384.3 342.6 382.7" fill="none" stroke="#7a4a10" stroke-opacity="0.75" stroke-width="0.7"/>
<path d="M240.0 465.0C239.3 467.7 234.3 480.3 235.0 485.0C235.7 489.7 244.3 495.3 245.0 500.0C245.7 504.7 239.7 514.7 240.0 520.0C240.3 525.3 246.3 535.2 247.0 540.0C247.7 544.8 245.3 553.9 245.0 556.0" fill="none" stroke="#7a4a10" stroke-opacity="0.75" stroke-width="0.7"/>
<path d="M275.0 462.7C276.3 465.0 281.7 475.7 285.0 480.0C288.3 484.3 295.3 492.3 300.0 495.0C304.7 497.7 315.3 497.3 320.0 500.0C324.7 502.7 332.5 510.5 335.0 515.0C337.5 519.5 338.5 531.5 339.0 534.0" fill="none" stroke="#7a4a10" stroke-opacity="0.75" stroke-width="0.7"/>
<path d="M124.0 217.0L132.0 214.0L144.0 204.0L155.0 203.0L163.0 196.0L174.0 198.0L183.0 206.0L191.0 201.0L199.0 192.0L215.0 187.0L224.0 178.0L232.0 176.0L237.0 160.0L246.0 149.0L251.0 137.0L255.0 135.0L259.0 143.0L268.0 147.0L281.0 145.0L290.0 140.0L301.0 137.0L307.0 131.0L296.0 121.0L287.0 109.0L276.0 98.0L274.0 90.0L281.0 84.0L290.0 89.0L301.0 98.0L310.0 96.0L307.0 87.0L303.0 75.0L307.0 68.0L318.0 71.0L334.0 68.0L343.0 70.0L348.0 59.0L347.0 48.0L353.0 43.0L364.0 46.0L367.0 56.0L364.0 68.0L365.0 78.0L375.0 90.0L384.0 103.0L397.0 115.0L409.0 123.0L415.0 136.0L423.0 142.0L430.0 153.0L438.0 161.0L450.0 167.0L463.0 167.0L474.0 163.0L485.0 164.0L494.0 169.0L510.0 170.0L525.0 175.0L536.0 174.0L541.0 169.0L550.0 172.0L563.0 174.0L572.0 172.0L575.0 178.0L568.0 186.0L558.0 183.0L554.0 191.0L555.0 200.0L547.0 210.0L540.0 211.0L532.0 207.0L522.0 213.0L511.0 218.0L511.0 227.0L499.0 230.0L500.0 240.0L508.0 247.0L511.0 257.0L503.0 266.0L508.0 279.0L514.0 292.0L519.0 306.0L528.0 307.0L533.0 318.0L541.0 325.0L546.0 331.0L547.0 340.0L540.0 345.0L535.0 354.0L522.0 359.0L510.0 364.0L500.0 373.0L494.0 380.0L485.0 375.0L475.0 380.0L463.0 383.0L450.0 392.0L441.0 387.0L428.0 386.0L419.0 386.0L413.0 390.0L407.0 393.0L393.0 395.0L389.0 398.0L387.0 409.0L386.0 420.0L390.0 431.0L392.0 442.0L396.0 444.0L403.0 450.0L411.0 458.0L418.0 459.0L425.0 456.0L428.0 467.0L431.0 478.0L423.0 486.0L423.0 494.0L417.0 505.0L418.0 516.0L407.0 524.0L396.0 531.0L392.0 541.0L387.0 535.0L375.0 536.0L370.0 544.0L367.0 537.0L359.0 540.0L347.0 540.0L339.0 534.0L331.0 540.0L323.0 548.0L317.0 556.0L305.0 560.0L294.0 563.0L289.0 571.0L294.0 581.0L294.0 595.0L273.0 595.0L267.0 582.0L256.0 574.0L252.0 565.0L247.0 556.0L241.0 546.0L231.0 546.0L216.0 549.0L205.0 549.0L194.0 546.0L189.0 548.0L183.0 546.0L177.0 551.0L169.0 542.0L164.0 548.0L161.0 557.0L152.0 559.0L143.0 560.0L141.0 571.0L124.0 570.0L121.0 563.0L116.0 554.0L108.0 553.0L107.0 546.0L102.0 538.0L93.0 540.0L77.0 542.0L63.0 540.0L61.0 528.0L55.0 521.0L58.0 515.0L60.0 503.0L55.0 492.0L47.0 487.0L39.0 481.0L43.0 477.0L55.0 474.0L71.0 471.0L74.0 465.0L66.0 453.0L62.0 442.0L61.0 430.0L50.0 422.0L40.0 416.0L42.0 408.0L48.0 402.0L50.0 394.0L58.0 386.0L67.0 378.0L78.0 370.0L86.0 363.0L100.0 360.0L114.0 358.0L126.0 354.0L133.0 343.0L143.0 350.0L150.0 349.0L156.0 338.0L162.0 327.0L172.0 321.0L180.0 311.0L173.0 297.0L167.0 283.0L158.0 278.0L148.0 274.0L140.0 261.0L133.0 250.0L129.0 236.0L123.0 231.0L126.0 219.0Z" fill="none" stroke="#2b1a05" stroke-width="1.8" stroke-linejoin="round"/>
<path d="M320.7 93.9 L315.2 72.6 M315.2 72.6 L325.4 68.4 M316.0 76.0 L326.3 71.8 M346.5 96.4 L326.4 73.8 M326.4 73.8 L333.7 65.4 M328.8 76.5 L336.0 68.0 M331.1 79.1 L338.3 70.6 M333.4 81.7 L340.6 73.3 M298.9 106.4 L317.7 122.7 M317.7 122.7 L311.6 132.0 M315.0 120.4 L308.9 129.7 M312.4 118.1 L306.3 127.4 M334.7 186.6 L330.9 145.3 M342.7 147.3 L354.0 153.3 M263.8 176.6 L286.3 160.3 M317.7 180.4 L305.1 151.5 M307.6 144.0 L270.5 143.3 M270.5 143.3 L269.3 132.2 M274.0 143.3 L272.8 132.3 M277.5 143.4 L276.3 132.4 M281.0 143.5 L279.8 132.4 M411.3 142.3 L412.3 173.7 M412.3 173.7 L401.3 175.5 M412.2 170.2 L401.2 172.0 M412.1 166.7 L401.1 168.5 M412.0 163.2 L401.0 165.0 M439.6 176.8 L415.1 162.7 M415.1 162.7 L419.3 152.4 M418.1 164.4 L422.3 154.2 M421.2 166.2 L425.4 155.9 M424.2 167.9 L428.4 157.7 M414.5 200.3 L389.4 178.4 M389.4 178.4 L395.5 169.1 M392.0 180.7 L398.2 171.4 M394.7 183.0 L400.8 173.7 M397.3 185.3 L403.4 176.0 M396.3 211.3 L399.4 185.3 M399.4 185.3 L410.5 185.1 M399.0 188.7 L410.1 188.6 M419.2 175.2 L427.0 205.0 M427.0 205.0 L416.8 209.3 M426.1 201.6 L415.9 205.9 M425.2 198.2 L415.0 202.5 M424.3 194.9 L414.1 199.1 M438.0 211.3 L414.5 194.0 M414.5 194.0 L419.8 184.3 M417.3 196.1 L422.6 186.4 M420.1 198.2 L425.4 188.4 M395.7 208.2 L381.6 197.2 M381.6 197.2 L387.1 187.6 M384.3 199.3 L389.9 189.7 M387.1 201.5 L392.7 191.9 M423.9 233.2 L409.8 212.9 M409.8 212.9 L418.0 205.4 M411.8 215.7 L420.0 208.2 M413.8 218.6 L422.0 211.1 M458.4 239.5 L434.9 223.8 M434.9 223.8 L439.7 213.8 M437.8 225.8 L442.6 215.8 M440.7 227.7 L445.5 217.7 M477.2 220.7 L460.9 200.3 M460.9 200.3 L468.5 192.3 M463.1 203.0 L470.7 195.0 M465.3 205.8 L472.9 197.7 M467.4 208.5 L475.1 200.5 M462.1 184.6 L450.5 182.1 M458.8 183.9 L459.7 172.9 M486.0 167.4 L477.8 147.0 M481.0 154.9 L490.6 149.4 M497.6 183.1 L475.6 167.4 M475.6 167.4 L480.8 157.6 M478.5 169.4 L483.6 159.6 M481.3 171.5 L486.5 161.6 M484.2 173.5 L489.3 163.7 M528.9 184.6 L505.4 176.8 M505.4 176.8 L507.4 165.9 M508.7 177.9 L510.8 167.0 M512.0 179.0 L514.1 168.1 M515.4 180.1 L517.4 169.2 M535.2 199.7 L507.9 192.5 M507.9 192.5 L509.3 181.5 M511.3 193.4 L512.6 182.4 M514.7 194.3 L516.0 183.2 M518.1 195.2 L519.4 184.1 M557.1 179.9 L539.9 173.7 M539.9 173.7 L542.2 162.8 M543.2 174.9 L545.5 164.0 M546.5 176.1 L548.8 165.2 M549.7 177.3 L552.1 166.4 M502.3 237.9 L528.9 239.2 M528.9 239.2 L529.9 250.2 M525.4 239.0 L526.4 250.1 M521.9 238.9 L522.9 249.9 M518.4 238.7 L519.4 249.7 M475.6 265.5 L449.6 255.2 M449.6 255.2 L452.3 244.4 M452.8 256.5 L455.5 245.7 M456.1 257.8 L458.8 247.0 M459.3 259.1 L462.0 248.3 M398.8 242.6 L381.6 252.0 M381.6 252.0 L375.0 243.1 M384.6 250.4 L378.1 241.4 M387.7 248.7 L381.1 239.7 M405.1 275.5 L383.1 269.3 M383.1 269.3 L384.7 258.3 M386.5 270.2 L388.1 259.3 M389.9 271.2 L391.4 260.2 M393.2 272.2 L394.8 261.2 M503.8 283.4 L489.7 267.7 M495.4 274.0 L502.6 265.6 M505.4 278.7 L517.9 283.4 M517.9 283.4 L523.2 273.6 M514.7 282.2 L519.9 272.4 M511.4 280.9 L516.6 271.2 M246.1 151.3 L236.7 131.9 M240.4 139.6 L249.7 133.4 M222.6 189.0 L205.4 181.1 M213.1 184.6 L216.3 174.0 M216.3 186.1 L219.5 175.5 M134.9 213.4 L101.9 214.0 M118.9 213.7 L117.2 202.8 M122.4 213.7 L120.7 202.7 M125.9 213.6 L124.2 202.6 M131.7 254.8 L119.2 268.9 M124.8 262.5 L115.6 256.4 M131.7 244.8 L162.1 238.5 M162.1 238.5 L161.4 227.4 M158.7 239.2 L158.0 228.1 M155.3 239.9 L154.5 228.8 M151.8 240.6 L151.1 229.5 M153.7 264.8 L131.7 245.4 M186.0 259.5 L173.4 228.2 M233.6 225.0 L204.8 230.3 M204.8 230.3 L201.3 219.8 M208.2 229.7 L204.7 219.2 M211.6 229.1 L208.2 218.5 M215.1 228.4 L211.6 217.9 M189.7 217.2 L219.5 213.1 M255.5 223.4 L254.9 179.6 M255.0 188.1 L266.0 186.4 M255.1 191.6 L266.1 189.9 M255.1 195.1 L266.1 193.4 M250.8 225.0 L279.1 228.2 M279.1 228.2 L279.3 239.2 M275.6 227.8 L275.9 238.9 M272.1 227.4 L272.4 238.5 M268.6 227.0 L268.9 238.1 M189.7 259.5 L214.8 251.0 M185.0 297.1 L192.9 268.9 M192.9 268.9 L203.9 270.4 M191.9 272.3 L202.9 273.8 M191.0 275.6 L202.0 277.1 M190.0 279.0 L201.0 280.5 M202.3 305.0 L185.0 289.3 M185.0 289.3 L191.3 280.1 M187.6 291.6 L193.9 282.5 M190.2 294.0 L196.5 284.8 M269.7 283.6 L243.0 278.3 M251.3 280.0 L252.0 268.9 M280.6 297.1 L261.8 286.1 M261.8 286.1 L266.1 275.9 M264.8 287.9 L269.1 277.7 M267.9 289.7 L272.1 279.4 M280.6 151.3 L269.7 138.8 M269.7 138.8 L276.9 130.4 M272.0 141.4 L279.3 133.1 M274.3 144.1 L281.6 135.7 M276.6 146.7 L283.9 138.3 M272.9 188.8 L298.0 181.0 M313.7 200.4 L290.2 193.5 M330.9 189.4 L309.6 174.7 M309.6 174.7 L302.1 182.9 M312.5 176.7 L305.0 184.9 M315.4 178.7 L307.9 186.9 M318.2 180.7 L310.7 188.9 M339.7 223.9 L329.3 201.3 M304.3 198.8 L316.8 226.4 M316.8 226.4 L307.4 232.3 M315.4 223.2 L306.0 229.2 M313.9 220.1 L304.5 226.0 M312.5 216.9 L303.1 222.8 M280.8 240.5 L263.5 231.1 M263.5 231.1 L267.5 220.8 M266.6 232.8 L270.5 222.4 M269.7 234.5 L273.6 224.1 M272.7 236.2 L276.7 225.8 M318.4 237.4 L288.6 232.7 M288.6 232.7 L288.8 221.6 M292.0 233.2 L292.3 222.1 M295.5 233.8 L295.7 222.7 M299.0 234.3 L299.2 223.2 M280.8 232.7 L301.1 256.2 M306.5 281.9 L283.3 268.7 M283.3 268.7 L287.4 258.4 M286.3 270.5 L290.4 260.2 M289.3 272.2 L293.5 261.9 M292.4 273.9 L296.5 263.6 M365.4 270.9 L324.0 278.2 M324.0 278.2 L320.6 267.6 M327.5 277.5 L324.1 267.0 M330.9 276.9 L327.5 266.4 M334.4 276.3 L331.0 265.8 M348.2 280.3 L340.9 271.9 M294.9 295.4 L310.5 295.4 M310.5 295.4 L315.2 317.3 M310.5 295.4 L332.5 307.9 M298.0 297.6 L273.9 289.1 M287.6 341.8 L258.2 306.4 M263.6 312.9 L271.1 304.7 M265.9 315.6 L273.4 307.4 M268.1 318.3 L275.6 310.1 M270.3 321.0 L277.8 312.8 M261.9 297.0 L247.8 284.4 M247.8 284.4 L254.0 275.2 M250.5 286.7 L256.6 277.5 M253.1 289.1 L259.3 279.9 M363.8 303.2 L335.6 300.1 M335.6 300.1 L335.3 289.0 M339.1 300.5 L338.8 289.4 M342.6 300.9 L342.3 289.8 M346.0 301.3 L345.8 290.2 M390.5 305.4 L362.9 300.1 M362.9 300.1 L363.5 289.0 M366.3 300.8 L366.9 289.7 M369.8 301.4 L370.4 290.3 M373.2 302.1 L373.8 291.0 M381.7 316.7 L359.7 313.6 M359.7 313.6 L359.8 302.5 M363.2 314.1 L363.3 303.0 M366.7 314.6 L366.7 303.5 M370.1 315.1 L370.2 304.0 M318.4 334.6 L329.3 312.6 M329.3 312.6 L339.9 316.2 M327.8 315.8 L338.3 319.3 M326.2 318.9 L336.7 322.5 M324.6 322.0 L335.2 325.6 M340.3 342.4 L316.8 331.4 M359.7 345.5 L341.9 326.7 M341.9 326.7 L348.8 318.1 M344.3 329.3 L351.2 320.6 M346.7 331.8 L353.6 323.2 M349.1 334.4 L356.1 325.7 M396.7 349.3 L375.4 340.8 M375.4 340.8 L378.1 330.1 M378.7 342.1 L381.3 331.4 M381.9 343.4 L384.6 332.7 M385.2 344.7 L387.8 333.9 M410.8 318.0 L393.0 298.5 M393.0 298.5 L400.1 290.0 M395.3 301.1 L402.4 292.6 M397.7 303.7 L404.8 295.1 M359.7 243.7 L382.6 223.9 M382.6 223.9 L391.0 231.3 M380.0 226.2 L388.3 233.6 M377.3 228.5 L385.7 235.8 M374.7 230.8 L383.0 238.1 M377.9 221.7 L373.2 240.5 M373.2 240.5 L383.5 244.7 M374.1 237.1 L384.4 241.3 M374.9 233.7 L385.2 237.9 M382.6 182.5 L353.5 191.3 M353.5 191.3 L348.9 181.2 M356.8 190.3 L352.2 180.2 M360.2 189.3 L355.6 179.2 M363.5 188.3 L358.9 178.2 M361.6 205.1 L393.0 200.7 M393.0 200.7 L392.9 189.6 M389.5 201.2 L389.5 190.1 M386.0 201.7 L386.0 190.6 M382.6 202.2 L382.5 191.1 M410.8 187.9 L388.0 179.4 M388.0 179.4 L390.4 168.6 M391.2 180.6 L393.7 169.8 M394.5 181.8 L396.9 171.0 M440.6 286.0 L421.8 293.8 M421.8 293.8 L416.2 284.2 M425.0 292.5 L419.4 282.9 M428.3 291.1 L422.7 281.6 M431.5 289.8 L425.9 280.2 M440.6 345.5 L431.2 333.0 M431.2 333.0 L439.1 325.2 M433.3 335.8 L441.2 328.0 M435.4 338.6 L443.3 330.8 M410.8 317.3 L383.6 326.7 M383.6 326.7 L378.6 316.8 M386.9 325.6 L381.9 315.7 M390.2 324.5 L385.2 314.5 M420.4 282.3 L437.6 299.6 M437.6 299.6 L430.9 308.4 M435.1 297.1 L428.4 305.9 M432.7 294.6 L426.0 303.5 M431.3 290.2 L448.6 279.2 M487.8 283.9 L470.5 302.7 M470.5 302.7 L461.4 296.4 M472.9 300.1 L463.8 293.8 M475.3 297.5 L466.1 291.2 M477.6 295.0 L468.5 288.6 M490.9 335.6 L462.7 323.1 M462.7 323.1 L465.8 312.4 M465.9 324.5 L469.0 313.8 M469.1 325.9 L472.2 315.3 M472.3 327.3 L475.4 316.7 M467.4 315.2 L476.8 346.6 M476.8 346.6 L466.7 351.2 M475.8 343.2 L465.7 347.8 M474.8 339.9 L464.7 344.5 M505.0 353.5 L513.5 325.3 M513.5 325.3 L524.4 327.0 M512.5 328.6 L523.4 330.3 M511.5 332.0 L522.4 333.7 M510.5 335.3 L521.4 337.0 M530.1 340.3 L531.7 312.1 M531.7 312.1 L542.7 311.2 M531.5 315.6 L542.5 314.7 M531.3 319.1 L542.3 318.2 M531.1 322.6 L542.1 321.7 M458.0 348.2 L433.9 340.3 M433.9 340.3 L435.8 329.4 M437.2 341.4 L439.2 330.5 M440.5 342.5 L442.5 331.5 M443.8 343.6 L445.8 332.6 M484.6 360.7 L458.9 352.9 M458.9 352.9 L460.7 341.9 M462.3 353.9 L464.1 342.9 M465.6 354.9 L467.4 343.9 M450.2 382.6 L425.7 374.8 M425.7 374.8 L427.6 363.9 M429.0 375.9 L431.0 364.9 M432.4 376.9 L434.3 366.0 M435.7 378.0 L437.6 367.1 M415.7 387.3 L425.1 365.4 M418.8 382.6 L403.1 393.6 M403.1 393.6 L408.2 403.5 M406.0 391.6 L411.1 401.5 M408.9 389.6 L413.9 399.5 M411.7 387.6 L416.8 397.5 M509.7 241.6 L528.5 246.3 M528.5 246.3 L527.3 257.3 M525.1 245.4 L523.9 256.5 M521.7 244.6 L520.5 255.6 M518.3 243.7 L517.1 254.8 M88.0 330.0 L80.2 345.7 M80.2 345.7 L69.6 342.1 M81.7 342.5 L71.2 339.0 M83.3 339.4 L72.8 335.8 M61.3 385.8 L34.7 385.8 M43.2 385.8 L41.7 374.8 M46.7 385.8 L45.2 374.8 M50.2 385.8 L48.7 374.8 M53.7 385.8 L52.2 374.8 M45.7 419.3 L33.1 408.4 M33.1 408.4 L39.2 399.1 M35.8 410.7 L41.9 401.4 M38.4 413.0 L44.5 403.7 M80.2 473.6 L58.8 467.9 M67.1 470.1 L68.4 459.1 M97.4 403.7 L77.0 386.4 M83.5 391.9 L89.5 382.6 M92.7 420.9 L75.5 406.8 M82.0 412.2 L87.8 402.7 M84.9 408.4 L97.4 420.9 M131.9 422.5 L167.9 394.3 M154.5 404.7 L162.5 412.5 M151.8 406.9 L159.7 414.6 M149.0 409.1 L157.0 416.8 M153.8 367.6 L172.6 389.6 M172.6 389.6 L165.3 397.9 M170.4 386.9 L163.0 395.2 M168.1 384.2 L160.7 392.5 M165.8 381.6 L158.4 389.9 M153.8 358.2 L164.8 337.8 M218.1 364.5 L211.2 347.2 M116.2 459.2 L117.8 434.1 M159.2 465.4 L130.9 463.2 M130.9 463.2 L130.3 452.1 M134.4 463.5 L133.8 452.4 M137.9 463.8 L137.3 452.7 M141.4 464.0 L140.8 453.0 M124.0 493.6 L144.4 472.6 M138.5 478.7 L147.4 485.3 M136.1 481.2 L145.0 487.8 M155.4 515.0 L139.7 500.8 M139.7 500.8 L146.0 491.7 M142.3 503.2 L148.6 494.0 M144.9 505.5 L151.2 496.3 M147.5 507.9 L153.8 498.7 M193.0 502.4 L165.4 496.1 M165.4 496.1 L166.4 485.1 M168.8 496.9 L169.8 485.9 M172.2 497.7 L173.2 486.6 M196.1 438.2 L177.3 464.8 M177.3 464.8 L167.5 459.7 M179.4 461.9 L169.5 456.8 M181.4 459.1 L171.5 454.0 M183.4 456.2 L173.5 451.1 M167.9 449.1 L193.0 467.9 M193.0 467.9 L200.8 460.0 M190.2 465.8 L198.0 457.9 M187.4 463.7 L195.2 455.8 M184.6 461.6 L192.4 453.7 M221.2 486.7 L196.1 474.2 M196.1 474.2 L199.7 463.7 M199.3 475.8 L202.9 465.3 M202.4 477.3 L206.0 466.8 M205.5 478.9 L209.1 468.4 M200.8 455.4 L202.4 431.9 M200.8 438.2 L224.4 433.4 M230.6 419.3 L215.0 405.2 M215.0 405.2 L221.2 396.1 M217.6 407.6 L223.8 398.4 M220.2 409.9 L226.4 400.7 M183.6 430.3 L186.7 408.4 M186.7 408.4 L197.8 408.4 M186.2 411.8 L197.3 411.9 M237.0 356.3 L211.9 347.8 M268.4 382.9 L243.9 374.5 M260.5 402.7 L243.9 387.0 M243.9 387.0 L250.4 378.0 M246.5 389.4 L252.9 380.4 M249.0 391.8 L255.5 382.8 M251.6 394.2 L258.0 385.2 M296.6 387.0 L277.1 383.9 M287.2 412.1 L276.2 396.4 M276.2 396.4 L284.4 388.9 M278.2 399.3 L286.4 391.8 M280.2 402.2 L288.4 394.6 M282.2 405.0 L290.4 397.5 M284.2 407.9 L292.4 400.4 M286.2 410.8 L294.4 403.2 M312.3 380.8 L299.7 366.6 M299.7 366.6 L306.9 358.2 M302.0 369.3 L309.3 360.8 M304.4 371.9 L311.6 363.4 M306.7 374.5 L313.9 366.1 M337.3 369.8 L316.0 361.9 M316.0 361.9 L318.4 351.1 M319.3 363.2 L321.7 352.3 M322.6 364.4 L325.0 353.5 M325.9 365.6 L328.3 354.7 M375.0 380.8 L356.8 365.1 M356.8 365.1 L362.8 355.8 M359.4 367.4 L365.5 358.1 M362.1 369.6 L368.1 360.3 M364.7 371.9 L370.8 362.6 M346.7 402.7 L331.1 380.8 M331.1 380.8 L339.1 373.1 M333.1 383.6 L341.2 376.0 M335.1 386.4 L343.2 378.8 M373.4 393.3 L360.8 380.8 M360.8 380.8 L367.6 371.9 M363.3 383.2 L370.0 374.4 M365.8 385.7 L372.5 376.9 M302.2 425.3 L294.1 412.7 M293.4 434.0 L272.1 418.4 M272.1 418.4 L277.4 408.6 M275.0 420.4 L280.3 410.7 M277.8 422.5 L283.1 412.8 M280.6 424.6 L285.9 414.8 M283.4 426.7 L288.7 416.9 M286.2 428.7 L291.5 419.0 M309.1 452.9 L289.7 437.2 M289.7 437.2 L295.4 427.7 M292.4 439.4 L298.1 429.9 M295.1 441.6 L300.9 432.1 M297.9 443.8 L303.6 434.3 M300.6 446.0 L306.3 436.5 M303.3 448.2 L309.0 438.7 M284.0 459.1 L269.9 446.6 M269.9 446.6 L276.1 437.4 M272.6 448.9 L278.7 439.7 M275.2 451.2 L281.4 442.0 M277.8 453.6 L284.0 444.3 M280.4 455.9 L286.6 446.7 M283.0 458.2 L289.2 449.0 M346.7 451.3 L324.8 422.1 M324.8 422.1 L332.7 414.3 M326.9 424.9 L334.8 417.1 M329.0 427.7 L336.9 419.9 M331.1 430.5 L339.0 422.7 M333.2 433.3 L341.1 425.5 M335.3 436.1 L343.2 428.3 M365.5 448.2 L349.9 423.1 M349.9 423.1 L358.4 416.0 M351.7 426.0 L360.3 418.9 M353.6 429.0 L362.1 421.9 M355.4 432.0 L364.0 424.9 M357.3 434.9 L365.8 427.8 M359.1 437.9 L367.7 430.8 M378.1 459.1 L376.5 432.5 M237.0 418.4 L218.2 398.0 M218.2 398.0 L225.3 389.4 M220.6 400.6 L227.7 392.0 M223.0 403.1 L230.0 394.6 M225.3 405.7 L232.4 397.1 M224.5 437.8 L201.9 434.7 M230.8 469.2 L210.4 452.9 M210.4 452.9 L216.1 443.3 M213.1 455.0 L218.8 445.5 M215.8 457.2 L221.5 447.7 M284.0 515.5 L282.5 474.8 M333.6 491.1 L337.3 465.4 M254.3 519.3 L252.7 489.8 M252.7 489.8 L263.6 487.8 M252.9 493.3 L263.8 491.3 M253.1 496.8 L264.0 494.8 M253.3 500.3 L264.2 498.2 M253.4 503.8 L264.3 501.7 M253.6 507.3 L264.5 505.2 M273.1 525.0 L276.2 506.1 M276.2 506.1 L287.3 506.5 M275.6 509.6 L286.7 509.9 M275.1 513.0 L286.2 513.4 M274.5 516.5 L285.6 516.8 M273.9 520.0 L285.0 520.3 M273.3 523.4 L284.4 523.7 M307.6 521.8 L291.9 504.6 M291.9 504.6 L299.0 496.1 M294.2 507.2 L301.4 498.7 M296.6 509.8 L303.7 501.2 M298.9 512.3 L306.1 503.8 M301.3 514.9 L308.4 506.4 M303.7 517.5 L310.8 509.0 M318.5 507.7 L312.3 485.8 M312.3 485.8 L322.4 481.3 M313.2 489.1 L323.4 484.7 M314.2 492.5 L324.3 488.0 M368.7 512.4 L349.9 490.5 M349.9 490.5 L357.3 482.2 M352.2 493.1 L359.5 484.8 M354.4 495.8 L361.8 487.5 M356.7 498.4 L364.1 490.1 M359.0 501.1 L366.4 492.8 M361.3 503.8 L368.6 495.5 M346.7 528.1 L338.0 515.5 M249.6 528.1 L239.5 517.1 M390.2 394.1 L358.8 383.1 M358.8 383.1 L361.0 372.3 M362.1 384.3 L364.3 373.4 M365.4 385.4 L367.6 374.6 M368.7 386.6 L370.9 375.7 M387.0 420.8 L370.7 405.1 M370.7 405.1 L377.3 396.1 M373.2 407.5 L379.8 398.5 M375.8 409.9 L382.3 401.0 M378.3 412.4 L384.8 403.4 M380.8 414.8 L387.4 405.8 M383.3 417.2 L389.9 408.2 M413.7 459.0 L383.9 444.3 M383.9 444.3 L387.4 433.7 M387.0 445.8 L390.6 435.3 M390.2 447.4 L393.7 436.8 M393.3 448.9 L396.8 438.4 M396.4 450.5 L400.0 439.9 M399.6 452.0 L403.1 441.5 M418.4 488.2 L419.9 467.8 M419.9 467.8 L431.0 467.1 M419.7 471.3 L430.8 470.6 M419.4 474.8 L430.5 474.1 M419.1 478.2 L430.2 477.6 M418.9 481.7 L429.9 481.1 M418.6 485.2 L429.7 484.6 M418.3 488.7 L429.4 488.1 M401.1 504.5 L382.3 488.2 M394.9 535.2 L388.6 507.0 M388.6 507.0 L399.0 503.1 M389.3 510.4 L399.8 506.5 M390.1 513.8 L400.5 509.9 M390.9 517.2 L401.3 513.4 M391.6 520.6 L402.0 516.8 M392.4 524.0 L402.8 520.2 M393.1 527.5 L403.6 523.6 M355.7 534.2 L341.6 516.4 M86.2 531.2 L56.6 529.1 M65.0 529.7 L64.4 518.6 M72.2 480.6 L47.2 496.2 M47.2 496.2 L51.7 506.4 M50.2 494.4 L54.7 504.5 M53.1 492.5 L57.7 502.7 M56.1 490.7 L60.6 500.8 M87.8 533.8 L62.8 524.4 M62.8 524.4 L65.3 513.5 M66.1 525.6 L68.5 514.8 M69.4 526.8 L71.8 516.0 M72.6 528.1 L75.1 517.2 M83.8 516.6 L108.1 514.4 M106.6 533.8 L107.5 513.4 M107.5 513.4 L118.6 512.4 M107.3 516.9 L118.4 515.9 M142.5 558.1 L130.6 532.2 M130.6 532.2 L140.0 526.2 M132.1 535.4 L141.5 529.4 M133.5 538.6 L142.9 532.6 M135.0 541.7 L144.4 535.8 M176.9 537.5 L148.1 512.5 M211.2 548.1 L185.3 537.5 M112.8 457.2 L115.0 440.0 M252.5 545.6 L240.0 516.6 M240.0 516.6 L249.5 510.8 M241.4 519.8 L250.9 514.1 M242.8 523.0 L252.3 517.3 M244.1 526.2 L253.7 520.5 M245.5 529.4 L255.0 523.7 M274.4 533.8 L273.4 514.4 M273.4 514.4 L284.4 512.3 M273.6 517.9 L284.5 515.8 M273.8 521.4 L284.7 519.3 M284.4 558.8 L273.4 538.4 M273.4 538.4 L282.4 531.9 M275.1 541.5 L284.1 535.0 M276.8 544.6 L285.7 538.1 M293.8 531.2 L292.2 500.9 M292.2 500.9 L303.1 498.9 M292.4 504.4 L303.3 502.4 M292.5 507.9 L303.5 505.9 M292.7 511.4 L303.6 509.4 M292.9 514.9 L303.8 512.9 M293.1 518.4 L304.0 516.4 M321.9 537.5 L305.6 515.0 M305.6 515.0 L313.7 507.3 M307.7 517.8 L315.7 510.2 M309.7 520.7 L317.8 513.0 M311.8 523.5 L319.8 515.9 M313.8 526.3 L321.9 518.7 M315.9 529.2 L323.9 521.5 M306.2 560.3 L283.8 557.2 M273.4 567.5 L246.9 561.9 M357.0 43.0 L372.0 32.0 M372.0 32.0 L366.7 22.2 M369.2 34.1 L363.9 24.3 M366.4 36.1 L361.1 26.4 M363.5 38.2 L358.2 28.5 M191.4 391.3 L160.1 377.5 M160.1 377.5 L163.1 366.9 M163.3 379.0 L166.3 368.3 M166.5 380.4 L169.5 369.7 M169.7 381.8 L172.7 371.1 M178.9 400.1 L171.4 386.3 M167.6 422.7 L161.3 398.8 M176.4 422.7 L151.3 410.1 M158.9 413.9 L162.5 403.4 M162.0 415.5 L165.6 405.0 M165.2 417.1 L168.7 406.5 M168.3 418.6 L171.9 408.1 M162.6 435.2 L138.8 413.9 M138.8 413.9 L145.0 404.7 M141.4 416.2 L147.6 407.0 M144.0 418.6 L150.2 409.4 M146.6 420.9 L152.8 411.7 M145.0 440.2 L132.5 425.2 M132.5 425.2 L140.0 417.0 M134.7 427.9 L142.2 419.7 M137.0 430.5 L144.5 422.3 M266.6 400.1 L244.0 375.0 M249.7 381.4 L256.9 372.9 M252.1 384.0 L259.2 375.5 M254.4 386.6 L261.6 378.1 M256.7 389.2 L263.9 380.7 M242.8 423.9 L229.0 406.4 M229.0 406.4 L236.7 398.4 M231.2 409.1 L238.9 401.1 M233.3 411.9 L241.0 403.9 M235.5 414.6 L243.2 406.6 M212.7 422.7 L217.7 402.6 M217.7 402.6 L228.8 403.8 M216.9 406.0 L227.9 407.2 M216.0 409.4 L227.1 410.6 M193.9 472.8 L170.1 446.5 M170.1 446.5 L177.3 438.0 M172.4 449.1 L179.6 440.6 M174.8 451.7 L181.9 443.2 M177.1 454.3 L184.3 445.8 M179.5 456.8 L186.6 448.4 M180.1 477.8 L167.6 455.2 M167.6 455.2 L176.5 448.6 M169.3 458.3 L178.2 451.6 M171.0 461.4 L179.9 454.7 M172.7 464.4 L181.6 457.8 M230.3 469.0 L205.2 440.2 M205.2 442.7 L201.4 433.9 M212.7 489.1 L190.2 472.8 M190.2 472.8 L195.4 463.0 M193.0 474.8 L198.2 465.0 M195.8 476.9 L201.0 467.1 M198.7 478.9 L203.9 469.1 M147.5 472.8 L131.3 454.0 M131.3 454.0 L138.6 445.6 M133.5 456.6 L140.9 448.3 M135.8 459.3 L143.2 450.9 M138.1 461.9 L145.5 453.6 M141.3 487.8 L135.0 476.5 M180.1 502.9 L163.8 490.3 M163.8 490.3 L169.4 480.7 M166.6 492.5 L172.1 482.8 M169.4 494.6 L174.9 485.0 M285.4 442.7 L270.4 420.2 M270.4 420.2 L278.7 412.8 M272.3 423.1 L280.6 415.7 M274.2 426.0 L282.6 418.6 M276.2 428.9 L284.5 421.5 M278.1 431.8 L286.4 424.4 M280.1 434.7 L288.4 427.4 M290.4 422.7 L276.6 400.1 M276.6 400.1 L285.2 393.1 M278.4 403.1 L287.0 396.1 M280.3 406.1 L288.9 399.1 M282.1 409.1 L290.7 402.0 M283.9 412.0 L292.5 405.0 M285.7 415.0 L294.3 408.0 M282.9 392.6 L277.9 382.6 M266.6 507.9 L254.1 492.8 M254.1 492.8 L261.6 484.6 M256.3 495.5 L263.8 487.3 M258.5 498.2 L266.0 490.0 M260.8 500.9 L268.3 492.7 M263.0 503.6 L270.5 495.4 M265.3 506.3 L272.8 498.1" fill="none" stroke="#000" stroke-opacity="0.6" stroke-width="1.5"/>
<path d="M330.9 145.3 L319.9 145.3 L331.6 152.7 Z M286.3 160.3 L280.7 150.8 L280.2 164.7 Z M305.1 151.5 L314.8 146.2 L308.1 158.4 Z M450.5 182.1 L451.9 171.2 L457.9 183.7 Z M477.8 147.0 L487.6 142.0 L480.6 154.0 Z M489.7 267.7 L497.2 259.6 L494.7 273.3 Z M236.7 131.9 L246.2 126.2 L240.0 138.7 Z M205.4 181.1 L209.0 170.7 L212.2 184.2 Z M101.9 214.0 L100.7 203.1 L109.4 213.9 Z M110.4 213.9 L109.2 202.9 L117.9 213.7 Z M119.2 268.9 L110.3 262.3 L124.2 263.3 Z M173.4 228.2 L183.3 223.1 L176.2 235.1 Z M254.9 179.6 L265.9 178.4 L255.0 187.1 Z M243.0 278.3 L244.2 267.3 L250.4 279.8 Z M298.0 181.0 L302.2 191.2 L290.8 183.2 Z M290.2 193.5 L292.3 182.7 L297.4 195.6 Z M329.3 201.3 L338.9 195.9 L332.5 208.2 Z M340.9 271.9 L348.7 264.0 L345.8 277.6 Z M273.9 289.1 L276.6 278.4 L280.9 291.6 Z M258.2 306.4 L266.0 298.6 L263.0 312.1 Z M316.8 331.4 L320.5 321.1 L323.6 334.6 Z M34.7 385.8 L33.7 374.8 L42.2 385.8 Z M58.8 467.9 L60.7 457.0 L66.1 469.9 Z M77.0 386.4 L83.4 377.4 L82.7 391.3 Z M75.5 406.8 L81.6 397.7 L81.3 411.6 Z M97.4 420.9 L90.3 429.4 L92.1 415.6 Z M167.9 394.3 L175.5 402.3 L162.0 398.9 Z M161.2 399.5 L168.8 407.5 L155.3 404.1 Z M164.8 337.8 L175.0 342.2 L161.2 344.4 Z M211.2 347.2 L221.0 342.2 L214.0 354.2 Z M117.8 434.1 L128.8 433.8 L117.3 441.6 Z M144.4 472.6 L153.0 479.6 L139.2 478.0 Z M202.4 431.9 L213.5 431.6 L201.9 439.4 Z M211.9 347.8 L214.5 337.1 L219.0 350.2 Z M243.9 374.5 L246.6 363.8 L251.0 376.9 Z M277.1 383.9 L274.4 394.6 L284.6 385.1 Z M294.1 412.7 L302.8 405.9 L298.2 419.0 Z M376.5 432.5 L387.4 430.8 L377.0 440.0 Z M201.9 434.7 L199.4 445.4 L209.3 435.7 Z M282.5 474.8 L293.4 473.4 L282.8 482.3 Z M337.3 465.4 L348.4 466.0 L336.2 472.8 Z M338.0 515.5 L346.4 508.4 L342.3 521.7 Z M239.5 517.1 L247.0 509.0 L244.6 522.7 Z M382.3 488.2 L388.8 479.2 L388.0 493.1 Z M341.6 516.4 L349.6 508.8 L346.2 522.3 Z M56.6 529.1 L56.4 518.0 L64.0 529.6 Z M108.1 514.4 L110.1 525.2 L100.7 515.0 Z M148.1 512.5 L154.6 503.5 L153.8 517.4 Z M154.5 518.1 L161.0 509.1 L160.2 523.0 Z M185.3 537.5 L188.6 526.9 L192.3 540.3 Z M283.8 557.2 L284.3 546.2 L291.2 558.2 Z M246.9 561.9 L248.2 550.9 L254.2 563.4 Z M171.4 386.3 L180.5 380.2 L174.9 392.9 Z M161.3 398.8 L171.7 395.1 L163.2 406.1 Z M151.3 410.1 L155.3 399.8 L158.0 413.5 Z M244.0 375.0 L251.5 366.9 L249.1 380.6 Z M201.4 433.9 L211.1 428.7 L204.4 440.8 Z M135.0 476.5 L144.1 470.3 L138.7 483.1 Z M277.9 382.6 L287.3 376.7 L281.2 389.3 Z" fill="#000" fill-opacity="0.62" stroke="none"/>
<path d="M362.8 122.7 L360.9 101.8 M362.8 122.7 L379.2 113.2 M362.8 122.7 L383.7 124.5 M362.8 122.7 L369.0 145.9 M362.8 122.7 L351.0 124.8 M362.8 122.7 L353.6 131.9 M362.8 122.7 L351.3 114.7 M362.8 122.7 L354.1 117.7 M362.8 122.7 L370.4 129.1 M362.8 122.7 L359.7 131.2 M364.3 122.7 L369.4 127.2 M364.2 123.2 L367.4 129.2 M363.9 123.7 L364.9 130.4 M363.5 124.0 L362.2 130.7 M363.0 124.2 L359.5 130.0 M362.5 124.2 L357.2 128.4 M362.0 124.0 L355.6 126.2 M361.6 123.7 L354.8 123.5 M361.4 123.2 L355.0 120.7 M361.3 122.7 L356.2 118.2 M361.4 122.2 L358.1 116.2 M361.6 121.7 L360.6 115.0 M362.0 121.4 L363.4 114.7 M362.5 121.2 L366.1 115.4 M363.0 121.2 L368.4 117.0 M363.5 121.4 L370.0 119.2 M363.9 121.7 L370.7 121.9 M364.2 122.2 L370.5 124.7" fill="none" stroke="#000" stroke-opacity="0.56" stroke-width="1.4"/>
<circle cx="362.8" cy="122.7" r="4.2" fill="#1a1200" fill-opacity="0.6"/>
<path d="M197.6 381.2L204.2 381.2L200.9 374.6Z" fill="#111"/>
<text x="206.3" y="381.3" font-size="10.6" fill="#262626" font-family="Liberation Mono,monospace" letter-spacing="-2.2">45. 4</text>
<path d="M310.1 384.8L316.7 384.8L313.4 391.6Z" fill="#111"/>
<text x="318.8" y="392" font-size="10.6" fill="#1c1c1c" font-family="Liberation Mono,monospace" letter-spacing="-2.2">10. 0</text>
<text class="t" x="310.5" y="300" font-size="13" text-anchor="middle" fill="#111">★</text>
<text class="lab" x="350.5" y="165.6" text-anchor="middle">汤河口</text>
<text class="lab" x="474.5" y="189.1" text-anchor="middle">上甸子</text>
<text class="lab" x="225.3" y="208.3" text-anchor="middle">佛爷顶</text>
<text class="lab" x="181.5" y="260.9" text-anchor="middle">延庆</text>
<text class="lab" x="350.7" y="293.4" text-anchor="middle">怀柔</text>
<text class="lab" x="411.0" y="285.3" text-anchor="middle">密云</text>
<text class="lab" x="244.0" y="337.8" text-anchor="middle">昌平</text>
<text class="lab" x="476.8" y="355.1" text-anchor="middle">平谷</text>
<text class="lab" x="347.0" y="370.8" text-anchor="middle">顺义</text>
<text class="lab2" x="200.5" y="394.9" text-anchor="middle">高山玫</text>
<text class="lab2" x="200.3" y="407.6" text-anchor="middle">瑰园</text>
<text class="lab2" x="314.0" y="406.1" text-anchor="middle">奶东公园</text>
<text class="lab" x="109.7" y="422.1" text-anchor="middle">斋堂</text>
<text class="lab" x="264.0" y="419.4" text-anchor="middle">海淀</text>
<text class="lab" x="318.3" y="430.3" text-anchor="middle">朝阳</text>
<text class="lab" x="242.0" y="435.1" text-anchor="middle">石景山</text>
<text class="lab" x="229.5" y="452.6" text-anchor="middle">门头沟</text>
<text class="lab" x="252.0" y="458.9" text-anchor="middle">丰台</text>
<text class="lab" x="383.3" y="466.4" text-anchor="middle">通州</text>
<text class="lab" x="309.7" y="481.5" text-anchor="middle">观象台</text>
<text class="lab" x="238.3" y="492.1" text-anchor="middle">房山</text>
<text class="lab" x="121.5" y="506.5" text-anchor="middle">霞云岭</text>
<text class="lab" x="279.6" y="510.9" text-anchor="middle">大兴</text>
<text class="t" x="177.2" y="36.2" text-anchor="middle" font-size="17.7" fill="#e8141c">北京市极大风图</text>
<text class="t" x="173.1" y="53.0" text-anchor="middle" font-size="14" fill="#111" letter-spacing="0">02月21日08时00分—22日06时00分</text>
<text class="t" x="174.3" y="69.6" text-anchor="middle" font-size="14.6" fill="#111" letter-spacing="0">北京市气象数据中心</text>
<circle cx="574.3" cy="69.5" r="49.8" fill="url(#lg)"/>
<text class="t" font-size="7.3" font-weight="bold" fill="#fff" textLength="125" lengthAdjust="spacing"><textPath href="#arc" startOffset="0" textLength="125" lengthAdjust="spacing">BEIJING METEOROLOGICAL SERVICE</textPath></text>
<text class="t" x="581" y="107" font-size="8.6" fill="#fff" text-anchor="middle" transform="rotate(-15 582 104)" font-weight="bold">北京市气象局</text>
<g fill="none" stroke="#fff" stroke-linecap="round" stroke-linejoin="round"><path d="M562 95V42.5Q562 39.5 565 39.5Q568 39.5 568 42.5V95" stroke-width="1.5"/><path d="M568 50C580 52 585 55 588 62" stroke-width="1.3"/><path d="M568 62H588" stroke-width="1.3"/><path d="M563 70H590C596 71 598 74 599 78" stroke-width="1.5"/><path d="M563 79H594C599 80 601 83 602 86" stroke-width="1.5"/><path d="M549 59H572" stroke-width="1.6"/><path d="M547 57L550 59L547 61" stroke-width="1.3"/></g>
<path d="M570 58.2L575.5 59.7L570 61.2Z" fill="#e02020"/>
<text class="t" x="596.8" y="272.3" text-anchor="middle" font-size="9.3" fill="#222" letter-spacing="-1">风级</text>
<rect x="592.2" y="278.20" width="12.6" height="28.43" fill="#6e1512" stroke="#5a3a2a" stroke-width="0.5"/>
<text class="leg" x="607.3" y="302.5">12级</text>
<rect x="592.2" y="306.63" width="12.6" height="28.43" fill="#a80e0e" stroke="#5a3a2a" stroke-width="0.5"/>
<text class="leg" x="607.3" y="330.9">11级</text>
<rect x="592.2" y="335.06" width="12.6" height="28.43" fill="#e2103c" stroke="#5a3a2a" stroke-width="0.5"/>
<text class="leg" x="607.3" y="359.4">10级</text>
<rect x="592.2" y="363.49" width="12.6" height="28.43" fill="#f95618" stroke="#5a3a2a" stroke-width="0.5"/>
<text class="leg" x="607.3" y="387.8">9级</text>
<rect x="592.2" y="391.92" width="12.6" height="28.43" fill="#ff8e12" stroke="#5a3a2a" stroke-width="0.5"/>
<text class="leg" x="607.3" y="416.2">8级</text>
<rect x="592.2" y="420.35" width="12.6" height="28.43" fill="#e6b80e" stroke="#5a3a2a" stroke-width="0.5"/>
<text class="leg" x="607.3" y="444.7">7级</text>
<rect x="592.2" y="448.78" width="12.6" height="28.43" fill="#98b812" stroke="#5a3a2a" stroke-width="0.5"/>
<text class="leg" x="607.3" y="473.1">6级</text>
<rect x="592.2" y="477.21" width="12.6" height="28.43" fill="#12b89a" stroke="#5a3a2a" stroke-width="0.5"/>
<text class="leg" x="607.3" y="501.5">5级</text>
<rect x="592.2" y="505.64" width="12.6" height="28.43" fill="#3a9ae8" stroke="#5a3a2a" stroke-width="0.5"/>
<text class="leg" x="607.3" y="529.9">4级</text>
<rect x="592.2" y="534.07" width="12.6" height="28.43" fill="#92c8f8" stroke="#5a3a2a" stroke-width="0.5"/>
<text class="leg" x="607.3" y="558.4">3级</text>
<rect x="592.2" y="562.50" width="12.6" height="28.43" fill="#c2e2fa" stroke="#5a3a2a" stroke-width="0.5"/>
<text class="leg" x="607.3" y="586.8">2级</text>
<rect x="592.2" y="590.93" width="12.6" height="28.43" fill="#e4f2fc" stroke="#5a3a2a" stroke-width="0.5"/>
<text class="leg" x="607.3" y="615.2">1级</text>
</svg></body></html>
